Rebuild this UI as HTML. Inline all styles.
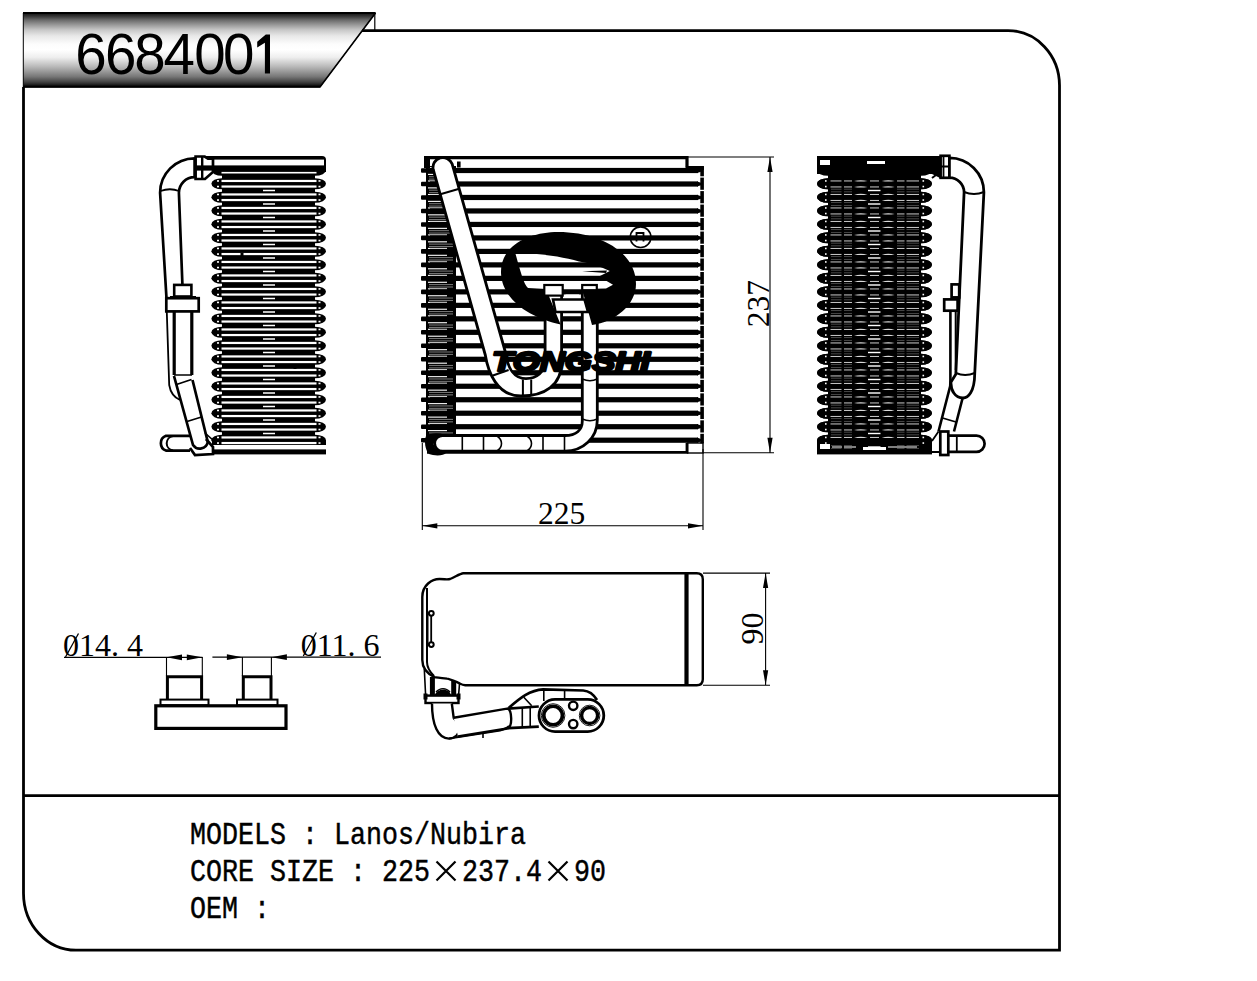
<!DOCTYPE html><html><head><meta charset="utf-8"><style>html,body{margin:0;padding:0;background:#fff;}svg{display:block;}</style></head><body>
<svg width="1257" height="981" viewBox="0 0 1257 981">
<defs><linearGradient id="bn" x1="0" y1="0" x2="0" y2="1"><stop offset="0" stop-color="#111"/><stop offset="0.04" stop-color="#333"/><stop offset="0.095" stop-color="#6a6a6a"/><stop offset="0.16" stop-color="#999"/><stop offset="0.23" stop-color="#c8c8c8"/><stop offset="0.31" stop-color="#e8e8e8"/><stop offset="0.42" stop-color="#fcfcfc"/><stop offset="0.5" stop-color="#fff"/><stop offset="0.6" stop-color="#eee"/><stop offset="0.66" stop-color="#d4d4d4"/><stop offset="0.72" stop-color="#bbb"/><stop offset="0.79" stop-color="#999"/><stop offset="0.86" stop-color="#777"/><stop offset="0.93" stop-color="#444"/><stop offset="0.98" stop-color="#151515"/><stop offset="1" stop-color="#000"/></linearGradient></defs>
<rect x="0" y="0" width="1257" height="981" fill="#fff"/>
<polygon points="23.3,13 375.5,13 320,87 23.3,87" fill="url(#bn)" stroke="#000" stroke-width="1"/>
<line x1="23" y1="13" x2="375.5" y2="13" stroke="#000" stroke-width="2"/>
<line x1="23" y1="86.7" x2="320.5" y2="86.7" stroke="#000" stroke-width="2"/>
<line x1="375.5" y1="13" x2="320" y2="87" stroke="#000" stroke-width="1.6"/>
<line x1="374.8" y1="13" x2="374.8" y2="30" stroke="#000" stroke-width="1.2"/>
<text y="74.1" font-family="Liberation Sans" font-size="56.5" fill="#000"><tspan x="75.3">6</tspan><tspan x="104.9">6</tspan><tspan x="134.3">8</tspan><tspan x="163.6">4</tspan><tspan x="194.3">0</tspan><tspan x="223">0</tspan></text>
<path d="M270,34.4 V73.4 H264.9 V42.8 L257.2,47.4 V41.8 L265.8,34.4 Z" fill="#000"/>
<path d="M362,30.6 H1008 A51.5,55 0 0 1 1059.5,85.6 V950.2 H76 A52.5,57 0 0 1 23.5,893.2 V87" fill="none" stroke="#000" stroke-width="2.8"/>
<line x1="23.5" y1="795.6" x2="1059.5" y2="795.6" stroke="#000" stroke-width="2.8"/>
<text x="190" y="844.3" font-family="Liberation Mono" font-size="31.3" transform="translate(190,844.3) scale(0.852,1) translate(-190,-844.3)" fill="#000" stroke="#000" stroke-width="0.45" xml:space="preserve">MODELS : Lanos/Nubira</text>
<text x="190" y="881.2" font-family="Liberation Mono" font-size="31.3" transform="translate(190,881.2) scale(0.852,1) translate(-190,-881.2)" fill="#000" stroke="#000" stroke-width="0.45" xml:space="preserve">CORE SIZE : 225</text>
<path d="M436.5,861.5 L455.5,880.5 M455.5,861.5 L436.5,880.5" stroke="#000" stroke-width="2.2" fill="none"/>
<text x="462" y="881.2" font-family="Liberation Mono" font-size="31.3" transform="translate(462,881.2) scale(0.852,1) translate(-462,-881.2)" fill="#000" stroke="#000" stroke-width="0.45" xml:space="preserve">237.4</text>
<path d="M548.5,861.5 L567.5,880.5 M567.5,861.5 L548.5,880.5" stroke="#000" stroke-width="2.2" fill="none"/>
<text x="574" y="881.2" font-family="Liberation Mono" font-size="31.3" transform="translate(574,881.2) scale(0.852,1) translate(-574,-881.2)" fill="#000" stroke="#000" stroke-width="0.45" xml:space="preserve">90</text>
<text x="190" y="918.2" font-family="Liberation Mono" font-size="31.3" transform="translate(190,918.2) scale(0.852,1) translate(-190,-918.2)" fill="#000" stroke="#000" stroke-width="0.45" xml:space="preserve">OEM :</text>
<rect x="426" y="166" width="30" height="280" fill="#000"/>
<rect x="428" y="166.96" width="19" height="1.1" fill="#fff" fill-opacity="1"/>
<rect x="428" y="173.85" width="19" height="1.1" fill="#fff" fill-opacity="1"/>
<rect x="429" y="176.15" width="24" height="1.1" fill="#fff" fill-opacity="0.45"/>
<rect x="429" y="178.55" width="24" height="1.1" fill="#fff" fill-opacity="0.45"/>
<rect x="428" y="180.45" width="19" height="1.1" fill="#fff" fill-opacity="1"/>
<rect x="428" y="187.34" width="19" height="1.1" fill="#fff" fill-opacity="1"/>
<rect x="429" y="189.63" width="24" height="1.1" fill="#fff" fill-opacity="0.45"/>
<rect x="429" y="192.03" width="24" height="1.1" fill="#fff" fill-opacity="0.45"/>
<rect x="428" y="193.94" width="19" height="1.1" fill="#fff" fill-opacity="1"/>
<rect x="428" y="200.82" width="19" height="1.1" fill="#fff" fill-opacity="1"/>
<rect x="429" y="203.12" width="24" height="1.1" fill="#fff" fill-opacity="0.45"/>
<rect x="429" y="205.52" width="24" height="1.1" fill="#fff" fill-opacity="0.45"/>
<rect x="428" y="207.42" width="19" height="1.1" fill="#fff" fill-opacity="1"/>
<rect x="428" y="214.30" width="19" height="1.1" fill="#fff" fill-opacity="1"/>
<rect x="429" y="216.60" width="24" height="1.1" fill="#fff" fill-opacity="0.45"/>
<rect x="429" y="219.00" width="24" height="1.1" fill="#fff" fill-opacity="0.45"/>
<rect x="428" y="220.90" width="19" height="1.1" fill="#fff" fill-opacity="1"/>
<rect x="428" y="227.79" width="19" height="1.1" fill="#fff" fill-opacity="1"/>
<rect x="429" y="230.09" width="24" height="1.1" fill="#fff" fill-opacity="0.45"/>
<rect x="429" y="232.49" width="24" height="1.1" fill="#fff" fill-opacity="0.45"/>
<rect x="428" y="234.39" width="19" height="1.1" fill="#fff" fill-opacity="1"/>
<rect x="428" y="241.28" width="19" height="1.1" fill="#fff" fill-opacity="1"/>
<rect x="429" y="243.57" width="24" height="1.1" fill="#fff" fill-opacity="0.45"/>
<rect x="429" y="245.97" width="24" height="1.1" fill="#fff" fill-opacity="0.45"/>
<rect x="428" y="247.88" width="19" height="1.1" fill="#fff" fill-opacity="1"/>
<rect x="428" y="254.76" width="19" height="1.1" fill="#fff" fill-opacity="1"/>
<rect x="429" y="257.06" width="24" height="1.1" fill="#fff" fill-opacity="0.45"/>
<rect x="429" y="259.46" width="24" height="1.1" fill="#fff" fill-opacity="0.45"/>
<rect x="428" y="261.36" width="19" height="1.1" fill="#fff" fill-opacity="1"/>
<rect x="428" y="268.24" width="19" height="1.1" fill="#fff" fill-opacity="1"/>
<rect x="429" y="270.54" width="24" height="1.1" fill="#fff" fill-opacity="0.45"/>
<rect x="429" y="272.94" width="24" height="1.1" fill="#fff" fill-opacity="0.45"/>
<rect x="428" y="274.84" width="19" height="1.1" fill="#fff" fill-opacity="1"/>
<rect x="428" y="281.73" width="19" height="1.1" fill="#fff" fill-opacity="1"/>
<rect x="429" y="284.03" width="24" height="1.1" fill="#fff" fill-opacity="0.45"/>
<rect x="429" y="286.43" width="24" height="1.1" fill="#fff" fill-opacity="0.45"/>
<rect x="428" y="288.33" width="19" height="1.1" fill="#fff" fill-opacity="1"/>
<rect x="428" y="295.21" width="19" height="1.1" fill="#fff" fill-opacity="1"/>
<rect x="429" y="297.51" width="24" height="1.1" fill="#fff" fill-opacity="0.45"/>
<rect x="429" y="299.92" width="24" height="1.1" fill="#fff" fill-opacity="0.45"/>
<rect x="428" y="301.81" width="19" height="1.1" fill="#fff" fill-opacity="1"/>
<rect x="428" y="308.70" width="19" height="1.1" fill="#fff" fill-opacity="1"/>
<rect x="429" y="311.00" width="24" height="1.1" fill="#fff" fill-opacity="0.45"/>
<rect x="429" y="313.40" width="24" height="1.1" fill="#fff" fill-opacity="0.45"/>
<rect x="428" y="315.30" width="19" height="1.1" fill="#fff" fill-opacity="1"/>
<rect x="428" y="322.18" width="19" height="1.1" fill="#fff" fill-opacity="1"/>
<rect x="429" y="324.48" width="24" height="1.1" fill="#fff" fill-opacity="0.45"/>
<rect x="429" y="326.88" width="24" height="1.1" fill="#fff" fill-opacity="0.45"/>
<rect x="428" y="328.78" width="19" height="1.1" fill="#fff" fill-opacity="1"/>
<rect x="428" y="335.67" width="19" height="1.1" fill="#fff" fill-opacity="1"/>
<rect x="429" y="337.97" width="24" height="1.1" fill="#fff" fill-opacity="0.45"/>
<rect x="429" y="340.37" width="24" height="1.1" fill="#fff" fill-opacity="0.45"/>
<rect x="428" y="342.27" width="19" height="1.1" fill="#fff" fill-opacity="1"/>
<rect x="428" y="349.15" width="19" height="1.1" fill="#fff" fill-opacity="1"/>
<rect x="429" y="351.45" width="24" height="1.1" fill="#fff" fill-opacity="0.45"/>
<rect x="429" y="353.86" width="24" height="1.1" fill="#fff" fill-opacity="0.45"/>
<rect x="428" y="355.75" width="19" height="1.1" fill="#fff" fill-opacity="1"/>
<rect x="428" y="362.64" width="19" height="1.1" fill="#fff" fill-opacity="1"/>
<rect x="429" y="364.94" width="24" height="1.1" fill="#fff" fill-opacity="0.45"/>
<rect x="429" y="367.34" width="24" height="1.1" fill="#fff" fill-opacity="0.45"/>
<rect x="428" y="369.24" width="19" height="1.1" fill="#fff" fill-opacity="1"/>
<rect x="428" y="376.12" width="19" height="1.1" fill="#fff" fill-opacity="1"/>
<rect x="429" y="378.42" width="24" height="1.1" fill="#fff" fill-opacity="0.45"/>
<rect x="429" y="380.82" width="24" height="1.1" fill="#fff" fill-opacity="0.45"/>
<rect x="428" y="382.72" width="19" height="1.1" fill="#fff" fill-opacity="1"/>
<rect x="428" y="389.61" width="19" height="1.1" fill="#fff" fill-opacity="1"/>
<rect x="429" y="391.91" width="24" height="1.1" fill="#fff" fill-opacity="0.45"/>
<rect x="429" y="394.31" width="24" height="1.1" fill="#fff" fill-opacity="0.45"/>
<rect x="428" y="396.21" width="19" height="1.1" fill="#fff" fill-opacity="1"/>
<rect x="428" y="403.09" width="19" height="1.1" fill="#fff" fill-opacity="1"/>
<rect x="429" y="405.39" width="24" height="1.1" fill="#fff" fill-opacity="0.45"/>
<rect x="429" y="407.80" width="24" height="1.1" fill="#fff" fill-opacity="0.45"/>
<rect x="428" y="409.69" width="19" height="1.1" fill="#fff" fill-opacity="1"/>
<rect x="428" y="416.58" width="19" height="1.1" fill="#fff" fill-opacity="1"/>
<rect x="429" y="418.88" width="24" height="1.1" fill="#fff" fill-opacity="0.45"/>
<rect x="429" y="421.28" width="24" height="1.1" fill="#fff" fill-opacity="0.45"/>
<rect x="428" y="423.18" width="19" height="1.1" fill="#fff" fill-opacity="1"/>
<rect x="428" y="430.06" width="19" height="1.1" fill="#fff" fill-opacity="1"/>
<rect x="429" y="432.36" width="24" height="1.1" fill="#fff" fill-opacity="0.45"/>
<rect x="429" y="434.76" width="24" height="1.1" fill="#fff" fill-opacity="0.45"/>
<rect x="428" y="436.66" width="19" height="1.1" fill="#fff" fill-opacity="1"/>
<rect x="428" y="443.55" width="19" height="1.1" fill="#fff" fill-opacity="1"/>
<rect x="430" y="167.90" width="268" height="5.2" fill="#000"/>
<rect x="421" y="168.20" width="8" height="4.6" rx="1" fill="#000"/>
<path d="M697,167.90 L701,169.30 L701,171.70 L697,173.10 Z" fill="#000"/>
<rect x="430" y="181.39" width="268" height="5.2" fill="#000"/>
<rect x="421" y="181.69" width="8" height="4.6" rx="1" fill="#000"/>
<path d="M697,181.39 L701,182.79 L701,185.19 L697,186.59 Z" fill="#000"/>
<rect x="430" y="194.87" width="268" height="5.2" fill="#000"/>
<rect x="421" y="195.17" width="8" height="4.6" rx="1" fill="#000"/>
<path d="M697,194.87 L701,196.27 L701,198.67 L697,200.07 Z" fill="#000"/>
<rect x="430" y="208.35" width="268" height="5.2" fill="#000"/>
<rect x="421" y="208.65" width="8" height="4.6" rx="1" fill="#000"/>
<path d="M697,208.35 L701,209.75 L701,212.15 L697,213.55 Z" fill="#000"/>
<rect x="430" y="221.84" width="268" height="5.2" fill="#000"/>
<rect x="421" y="222.14" width="8" height="4.6" rx="1" fill="#000"/>
<path d="M697,221.84 L701,223.24 L701,225.64 L697,227.04 Z" fill="#000"/>
<rect x="430" y="235.33" width="268" height="5.2" fill="#000"/>
<rect x="421" y="235.62" width="8" height="4.6" rx="1" fill="#000"/>
<path d="M697,235.33 L701,236.73 L701,239.12 L697,240.53 Z" fill="#000"/>
<rect x="430" y="248.81" width="268" height="5.2" fill="#000"/>
<rect x="421" y="249.11" width="8" height="4.6" rx="1" fill="#000"/>
<path d="M697,248.81 L701,250.21 L701,252.61 L697,254.01 Z" fill="#000"/>
<rect x="430" y="262.29" width="268" height="5.2" fill="#000"/>
<rect x="421" y="262.59" width="8" height="4.6" rx="1" fill="#000"/>
<path d="M697,262.29 L701,263.69 L701,266.09 L697,267.50 Z" fill="#000"/>
<rect x="430" y="275.78" width="268" height="5.2" fill="#000"/>
<rect x="421" y="276.08" width="8" height="4.6" rx="1" fill="#000"/>
<path d="M697,275.78 L701,277.18 L701,279.58 L697,280.98 Z" fill="#000"/>
<rect x="430" y="289.26" width="268" height="5.2" fill="#000"/>
<rect x="421" y="289.56" width="8" height="4.6" rx="1" fill="#000"/>
<path d="M697,289.26 L701,290.67 L701,293.06 L697,294.47 Z" fill="#000"/>
<rect x="430" y="302.75" width="268" height="5.2" fill="#000"/>
<rect x="421" y="303.05" width="8" height="4.6" rx="1" fill="#000"/>
<path d="M697,302.75 L701,304.15 L701,306.55 L697,307.95 Z" fill="#000"/>
<rect x="430" y="316.23" width="268" height="5.2" fill="#000"/>
<rect x="421" y="316.53" width="8" height="4.6" rx="1" fill="#000"/>
<path d="M697,316.23 L701,317.63 L701,320.03 L697,321.44 Z" fill="#000"/>
<rect x="430" y="329.72" width="268" height="5.2" fill="#000"/>
<rect x="421" y="330.02" width="8" height="4.6" rx="1" fill="#000"/>
<path d="M697,329.72 L701,331.12 L701,333.52 L697,334.92 Z" fill="#000"/>
<rect x="430" y="343.20" width="268" height="5.2" fill="#000"/>
<rect x="421" y="343.50" width="8" height="4.6" rx="1" fill="#000"/>
<path d="M697,343.20 L701,344.61 L701,347.00 L697,348.41 Z" fill="#000"/>
<rect x="430" y="356.69" width="268" height="5.2" fill="#000"/>
<rect x="421" y="356.99" width="8" height="4.6" rx="1" fill="#000"/>
<path d="M697,356.69 L701,358.09 L701,360.49 L697,361.89 Z" fill="#000"/>
<rect x="430" y="370.17" width="268" height="5.2" fill="#000"/>
<rect x="421" y="370.47" width="8" height="4.6" rx="1" fill="#000"/>
<path d="M697,370.17 L701,371.57 L701,373.97 L697,375.38 Z" fill="#000"/>
<rect x="430" y="383.66" width="268" height="5.2" fill="#000"/>
<rect x="421" y="383.96" width="8" height="4.6" rx="1" fill="#000"/>
<path d="M697,383.66 L701,385.06 L701,387.46 L697,388.86 Z" fill="#000"/>
<rect x="430" y="397.14" width="268" height="5.2" fill="#000"/>
<rect x="421" y="397.44" width="8" height="4.6" rx="1" fill="#000"/>
<path d="M697,397.14 L701,398.55 L701,400.94 L697,402.35 Z" fill="#000"/>
<rect x="430" y="410.63" width="268" height="5.2" fill="#000"/>
<rect x="421" y="410.93" width="8" height="4.6" rx="1" fill="#000"/>
<path d="M697,410.63 L701,412.03 L701,414.43 L697,415.83 Z" fill="#000"/>
<rect x="430" y="424.11" width="268" height="5.2" fill="#000"/>
<rect x="421" y="424.41" width="8" height="4.6" rx="1" fill="#000"/>
<path d="M697,424.11 L701,425.51 L701,427.91 L697,429.31 Z" fill="#000"/>
<rect x="430" y="437.60" width="268" height="5.2" fill="#000"/>
<rect x="421" y="437.90" width="8" height="4.6" rx="1" fill="#000"/>
<path d="M697,437.60 L701,439.00 L701,441.40 L697,442.80 Z" fill="#000"/>
<rect x="700.3" y="166.4" width="3.6" height="277" fill="#000"/>
<rect x="699.6" y="176.30" width="5" height="1.3" fill="#fff"/>
<rect x="699.6" y="189.79" width="5" height="1.3" fill="#fff"/>
<rect x="699.6" y="203.27" width="5" height="1.3" fill="#fff"/>
<rect x="699.6" y="216.75" width="5" height="1.3" fill="#fff"/>
<rect x="699.6" y="230.24" width="5" height="1.3" fill="#fff"/>
<rect x="699.6" y="243.73" width="5" height="1.3" fill="#fff"/>
<rect x="699.6" y="257.21" width="5" height="1.3" fill="#fff"/>
<rect x="699.6" y="270.69" width="5" height="1.3" fill="#fff"/>
<rect x="699.6" y="284.18" width="5" height="1.3" fill="#fff"/>
<rect x="699.6" y="297.67" width="5" height="1.3" fill="#fff"/>
<rect x="699.6" y="311.15" width="5" height="1.3" fill="#fff"/>
<rect x="699.6" y="324.63" width="5" height="1.3" fill="#fff"/>
<rect x="699.6" y="338.12" width="5" height="1.3" fill="#fff"/>
<rect x="699.6" y="351.61" width="5" height="1.3" fill="#fff"/>
<rect x="699.6" y="365.09" width="5" height="1.3" fill="#fff"/>
<rect x="699.6" y="378.57" width="5" height="1.3" fill="#fff"/>
<rect x="699.6" y="392.06" width="5" height="1.3" fill="#fff"/>
<rect x="699.6" y="405.55" width="5" height="1.3" fill="#fff"/>
<rect x="699.6" y="419.03" width="5" height="1.3" fill="#fff"/>
<rect x="699.6" y="432.51" width="5" height="1.3" fill="#fff"/>
<rect x="699.6" y="446.00" width="5" height="1.3" fill="#fff"/>
<path d="M425,157.7 H687 V166.5" fill="none" stroke="#000" stroke-width="3.2"/>
<rect x="685.5" y="166" width="18.4" height="4" fill="#000"/>
<rect x="424" y="156" width="6" height="12" fill="#000"/>
<rect x="457" y="161.5" width="3.6" height="6" fill="#000"/>
<path d="M427,452.4 H687 V443" fill="none" stroke="#000" stroke-width="2.8"/>
<rect x="687.5" y="443" width="15.5" height="10" fill="none" stroke="#000" stroke-width="1.4"/>
<path d="M433.2,169.5 L485.3,355 C488,372 497,396 521,396 C545,396 561.6,385 561.6,362 L561.6,292 L545.1,292 L545.1,362 C544.5,372 537,378.6 526,378.6 C514,378.6 508,368 506.2,355 L452.2,164.1 A9.9,9.9 0 0 0 433.2,169.5 Z" fill="#fff" stroke="#000" stroke-width="2.8" stroke-linejoin="round"/>
<path d="M440.3,194.2 L459.3,188.8" stroke="#000" stroke-width="2"/>
<path d="M491.5,376 L508.6,370" stroke="#000" stroke-width="2"/>
<path d="M522.9,379.5 V396 M531.2,379.5 V396" stroke="#000" stroke-width="2"/>
<path d="M582.3,292 L582.3,421 C582.3,430 576,435.5 565,435.5 L442.5,435.5 A7.85,7.85 0 0 0 442.5,451.2 L565,451.2 C583,451.2 597.3,438 597.3,420 L597.3,292 Z" fill="#fff" stroke="#000" stroke-width="2.8" stroke-linejoin="round"/>
<path d="M462.3,436 V451 M483.5,436 V451 M543,436 V451 M564.5,436 V451" stroke="#000" stroke-width="1.6"/>
<path d="M497,436 C503,440 503,447 497,451 M527,436 C533,440 533,447 527,451" stroke="#000" stroke-width="1.6" fill="none"/>
<path d="M582.3,379 C588,381.5 592,381.5 597.3,379 M582.3,419 C588,421.5 592,421.5 597.3,419" stroke="#000" stroke-width="1.6" fill="none"/>
<path d="M426,436 C430,433 438,432.5 444,434.5 L444,436.5 C436,437 433,441 433.5,444 C434,448 437,450.5 444,451.5 L446,453 C444,456 434,456 429,454 C425,450 424,441 426,436 Z" fill="#000"/>
<path d="M560.6,324.4 C530,318 502,300 501,273 C500,245 530,232 558,232 C600,232 636,252 636,284 C636,305 615,322 592,325 L582,289 L606,288.6 L613,284.7 L599,276.5 L609.8,271 C600,266 590,263 579,261.4 C560,256 535,253 515.5,253.7 C520,270 524,285 528,288 L546,289 Z" fill="#000"/>
<path d="M582,271.2 L607,270.6 L606,272.9 Z" fill="#000"/>
<path d="M553,299.5 H584.5 L588,312 H555.5 Z" fill="#fff" stroke="#000" stroke-width="2.6"/>
<rect x="565.5" y="294.5" width="13.5" height="3.5" fill="#fff"/>
<rect x="544.3" y="285" width="18.4" height="10.6" fill="#fff" stroke="#000" stroke-width="2.2"/>
<rect x="582.2" y="285" width="14.6" height="5.2" fill="#fff" stroke="#000" stroke-width="2.2"/>
<circle cx="640.6" cy="237.2" r="10.3" fill="none" stroke="#000" stroke-width="1.6"/>
<path d="M636.5,241.5 V233 H643.5 V238.5 H636.5 M643.5,238.5 V241.5" fill="none" stroke="#000" stroke-width="1.8"/>
<text x="492" y="370.8" font-family="Liberation Sans" font-weight="bold" font-style="italic" font-size="27.5" textLength="158" lengthAdjust="spacingAndGlyphs" fill="#000" stroke="#000" stroke-width="2.4" stroke-linejoin="round">TONGSHI</text>
<path d="M688,157 H774 M703,452.8 H774 M770,157 V452.8" stroke="#000" stroke-width="1.1" fill="none"/>
<path d="M770,157 L772.60,172.00 L767.40,172.00 Z" fill="#000"/>
<path d="M770,452.8 L767.40,437.80 L772.60,437.80 Z" fill="#000"/>
<path d="M422.3,443 V530 M703,449 V530 M422.3,525.8 H703" stroke="#000" stroke-width="1.1" fill="none"/>
<path d="M422.3,525.8 L437.30,523.20 L437.30,528.40 Z" fill="#000"/>
<path d="M703,525.8 L688.00,528.40 L688.00,523.20 Z" fill="#000"/>
<text x="538" y="523.6" font-family="Liberation Serif" font-size="31.5" fill="#000">225</text>
<text transform="translate(768.8,303.5) rotate(-90)" x="0" y="0" text-anchor="middle" font-family="Liberation Serif" font-size="31.5" fill="#000">237</text>
<text x="62.9" y="655.6" font-family="Liberation Serif" font-size="32" fill="#000" xml:space="preserve">014. 4</text>
<path d="M65.5,657 L78.5,633.5" stroke="#000" stroke-width="1.3"/>
<text x="300.7" y="655.6" font-family="Liberation Serif" font-size="32" fill="#000" xml:space="preserve">011. 6</text>
<path d="M303.3,656 L316.3,632.5" stroke="#000" stroke-width="1.3"/>
<path d="M64,657.3 H202.5 M212.4,657.2 H381" stroke="#000" stroke-width="1.2"/>
<path d="M166.5,657.3 L182.00,654.40 L182.00,660.20 Z" fill="#000"/>
<path d="M202.3,657.3 L186.80,660.20 L186.80,654.40 Z" fill="#000"/>
<path d="M242.4,657.2 L226.90,660.10 L226.90,654.30 Z" fill="#000"/>
<path d="M271.4,657.2 L286.90,654.30 L286.90,660.10 Z" fill="#000"/>
<path d="M166.5,657 V676 M202.3,657 V676 M242.4,657 V676 M271.4,657 V676" stroke="#000" stroke-width="1.1"/>
<rect x="155.8" y="705.8" width="130.2" height="22.6" fill="none" stroke="#000" stroke-width="3.2"/>
<rect x="160.5" y="699.6" width="48" height="5.6" fill="none" stroke="#000" stroke-width="2"/>
<rect x="237" y="699.6" width="40.5" height="5.6" fill="none" stroke="#000" stroke-width="2"/>
<path d="M167.4,699 V676.8 H201.6 V699" fill="none" stroke="#000" stroke-width="3"/>
<path d="M243.3,699 V676.8 H271 V699" fill="none" stroke="#000" stroke-width="3"/>
<path d="M703,573.1 H770 M703,685.3 H770 M765.6,573.1 V685.3" stroke="#000" stroke-width="1.1" fill="none"/>
<path d="M765.6,573.1 L768.20,588.10 L763.00,588.10 Z" fill="#000"/>
<path d="M765.6,685.3 L763.00,670.30 L768.20,670.30 Z" fill="#000"/>
<text transform="translate(763.2,628.4) rotate(-90)" x="0" y="0" text-anchor="middle" font-family="Liberation Serif" font-size="32" fill="#000">90</text>
<rect x="222" y="156" width="93" height="298" fill="#000"/>
<path d="M204,156 H322 Q326,156 326,160 V172 H204 Z" fill="#000"/>
<rect x="212" y="440" width="114" height="14.4" fill="#000"/>
<ellipse cx="222" cy="170.25" rx="10.6" ry="5.6" fill="#000"/>
<ellipse cx="315" cy="170.25" rx="11" ry="5.6" fill="#000"/>
<ellipse cx="222" cy="183.75" rx="10.6" ry="5.6" fill="#000"/>
<ellipse cx="315" cy="183.75" rx="11" ry="5.6" fill="#000"/>
<ellipse cx="222" cy="197.25" rx="10.6" ry="5.6" fill="#000"/>
<ellipse cx="315" cy="197.25" rx="11" ry="5.6" fill="#000"/>
<ellipse cx="222" cy="210.75" rx="10.6" ry="5.6" fill="#000"/>
<ellipse cx="315" cy="210.75" rx="11" ry="5.6" fill="#000"/>
<ellipse cx="222" cy="224.25" rx="10.6" ry="5.6" fill="#000"/>
<ellipse cx="315" cy="224.25" rx="11" ry="5.6" fill="#000"/>
<ellipse cx="222" cy="237.75" rx="10.6" ry="5.6" fill="#000"/>
<ellipse cx="315" cy="237.75" rx="11" ry="5.6" fill="#000"/>
<ellipse cx="222" cy="251.25" rx="10.6" ry="5.6" fill="#000"/>
<ellipse cx="315" cy="251.25" rx="11" ry="5.6" fill="#000"/>
<ellipse cx="222" cy="264.75" rx="10.6" ry="5.6" fill="#000"/>
<ellipse cx="315" cy="264.75" rx="11" ry="5.6" fill="#000"/>
<ellipse cx="222" cy="278.25" rx="10.6" ry="5.6" fill="#000"/>
<ellipse cx="315" cy="278.25" rx="11" ry="5.6" fill="#000"/>
<ellipse cx="222" cy="291.75" rx="10.6" ry="5.6" fill="#000"/>
<ellipse cx="315" cy="291.75" rx="11" ry="5.6" fill="#000"/>
<ellipse cx="222" cy="305.25" rx="10.6" ry="5.6" fill="#000"/>
<ellipse cx="315" cy="305.25" rx="11" ry="5.6" fill="#000"/>
<ellipse cx="222" cy="318.75" rx="10.6" ry="5.6" fill="#000"/>
<ellipse cx="315" cy="318.75" rx="11" ry="5.6" fill="#000"/>
<ellipse cx="222" cy="332.25" rx="10.6" ry="5.6" fill="#000"/>
<ellipse cx="315" cy="332.25" rx="11" ry="5.6" fill="#000"/>
<ellipse cx="222" cy="345.75" rx="10.6" ry="5.6" fill="#000"/>
<ellipse cx="315" cy="345.75" rx="11" ry="5.6" fill="#000"/>
<ellipse cx="222" cy="359.25" rx="10.6" ry="5.6" fill="#000"/>
<ellipse cx="315" cy="359.25" rx="11" ry="5.6" fill="#000"/>
<ellipse cx="222" cy="372.75" rx="10.6" ry="5.6" fill="#000"/>
<ellipse cx="315" cy="372.75" rx="11" ry="5.6" fill="#000"/>
<ellipse cx="222" cy="386.25" rx="10.6" ry="5.6" fill="#000"/>
<ellipse cx="315" cy="386.25" rx="11" ry="5.6" fill="#000"/>
<ellipse cx="222" cy="399.75" rx="10.6" ry="5.6" fill="#000"/>
<ellipse cx="315" cy="399.75" rx="11" ry="5.6" fill="#000"/>
<ellipse cx="222" cy="413.25" rx="10.6" ry="5.6" fill="#000"/>
<ellipse cx="315" cy="413.25" rx="11" ry="5.6" fill="#000"/>
<ellipse cx="222" cy="426.75" rx="10.6" ry="5.6" fill="#000"/>
<ellipse cx="315" cy="426.75" rx="11" ry="5.6" fill="#000"/>
<ellipse cx="222" cy="440.25" rx="10.6" ry="5.6" fill="#000"/>
<ellipse cx="315" cy="440.25" rx="11" ry="5.6" fill="#000"/>
<rect x="221.5" y="179.85" width="95" height="2.2" fill="#fff"/>
<rect x="217" y="180.15" width="2" height="1.6" fill="#fff"/><rect x="318.5" y="180.15" width="2" height="1.6" fill="#fff"/>
<rect x="221.5" y="185.45" width="95" height="2.2" fill="#fff"/>
<rect x="217" y="185.75" width="2" height="1.6" fill="#fff"/><rect x="318.5" y="185.75" width="2" height="1.6" fill="#fff"/>
<rect x="263" y="189.75" width="12" height="1.5" fill="#fff"/>
<rect x="221.5" y="193.35" width="95" height="2.2" fill="#fff"/>
<rect x="217" y="193.65" width="2" height="1.6" fill="#fff"/><rect x="318.5" y="193.65" width="2" height="1.6" fill="#fff"/>
<rect x="221.5" y="198.95" width="95" height="2.2" fill="#fff"/>
<rect x="217" y="199.25" width="2" height="1.6" fill="#fff"/><rect x="318.5" y="199.25" width="2" height="1.6" fill="#fff"/>
<rect x="263" y="203.25" width="12" height="1.5" fill="#fff"/>
<rect x="221.5" y="206.85" width="95" height="2.2" fill="#fff"/>
<rect x="217" y="207.15" width="2" height="1.6" fill="#fff"/><rect x="318.5" y="207.15" width="2" height="1.6" fill="#fff"/>
<rect x="221.5" y="212.45" width="95" height="2.2" fill="#fff"/>
<rect x="217" y="212.75" width="2" height="1.6" fill="#fff"/><rect x="318.5" y="212.75" width="2" height="1.6" fill="#fff"/>
<rect x="263" y="216.75" width="12" height="1.5" fill="#fff"/>
<rect x="221.5" y="220.35" width="95" height="2.2" fill="#fff"/>
<rect x="217" y="220.65" width="2" height="1.6" fill="#fff"/><rect x="318.5" y="220.65" width="2" height="1.6" fill="#fff"/>
<rect x="221.5" y="225.95" width="95" height="2.2" fill="#fff"/>
<rect x="217" y="226.25" width="2" height="1.6" fill="#fff"/><rect x="318.5" y="226.25" width="2" height="1.6" fill="#fff"/>
<rect x="263" y="230.25" width="12" height="1.5" fill="#fff"/>
<rect x="221.5" y="233.85" width="95" height="2.2" fill="#fff"/>
<rect x="217" y="234.15" width="2" height="1.6" fill="#fff"/><rect x="318.5" y="234.15" width="2" height="1.6" fill="#fff"/>
<rect x="221.5" y="239.45" width="95" height="2.2" fill="#fff"/>
<rect x="217" y="239.75" width="2" height="1.6" fill="#fff"/><rect x="318.5" y="239.75" width="2" height="1.6" fill="#fff"/>
<rect x="263" y="243.75" width="12" height="1.5" fill="#fff"/>
<rect x="221.5" y="247.35" width="95" height="2.2" fill="#fff"/>
<rect x="217" y="247.65" width="2" height="1.6" fill="#fff"/><rect x="318.5" y="247.65" width="2" height="1.6" fill="#fff"/>
<rect x="221.5" y="252.95" width="95" height="2.2" fill="#fff"/>
<rect x="217" y="253.25" width="2" height="1.6" fill="#fff"/><rect x="318.5" y="253.25" width="2" height="1.6" fill="#fff"/>
<rect x="263" y="257.25" width="12" height="1.5" fill="#fff"/>
<rect x="221.5" y="260.85" width="95" height="2.2" fill="#fff"/>
<rect x="217" y="261.15" width="2" height="1.6" fill="#fff"/><rect x="318.5" y="261.15" width="2" height="1.6" fill="#fff"/>
<rect x="221.5" y="266.45" width="95" height="2.2" fill="#fff"/>
<rect x="217" y="266.75" width="2" height="1.6" fill="#fff"/><rect x="318.5" y="266.75" width="2" height="1.6" fill="#fff"/>
<rect x="263" y="270.75" width="12" height="1.5" fill="#fff"/>
<rect x="221.5" y="274.35" width="95" height="2.2" fill="#fff"/>
<rect x="217" y="274.65" width="2" height="1.6" fill="#fff"/><rect x="318.5" y="274.65" width="2" height="1.6" fill="#fff"/>
<rect x="221.5" y="279.95" width="95" height="2.2" fill="#fff"/>
<rect x="217" y="280.25" width="2" height="1.6" fill="#fff"/><rect x="318.5" y="280.25" width="2" height="1.6" fill="#fff"/>
<rect x="263" y="284.25" width="12" height="1.5" fill="#fff"/>
<rect x="221.5" y="287.85" width="95" height="2.2" fill="#fff"/>
<rect x="217" y="288.15" width="2" height="1.6" fill="#fff"/><rect x="318.5" y="288.15" width="2" height="1.6" fill="#fff"/>
<rect x="221.5" y="293.45" width="95" height="2.2" fill="#fff"/>
<rect x="217" y="293.75" width="2" height="1.6" fill="#fff"/><rect x="318.5" y="293.75" width="2" height="1.6" fill="#fff"/>
<rect x="263" y="297.75" width="12" height="1.5" fill="#fff"/>
<rect x="221.5" y="301.35" width="95" height="2.2" fill="#fff"/>
<rect x="217" y="301.65" width="2" height="1.6" fill="#fff"/><rect x="318.5" y="301.65" width="2" height="1.6" fill="#fff"/>
<rect x="221.5" y="306.95" width="95" height="2.2" fill="#fff"/>
<rect x="217" y="307.25" width="2" height="1.6" fill="#fff"/><rect x="318.5" y="307.25" width="2" height="1.6" fill="#fff"/>
<rect x="263" y="311.25" width="12" height="1.5" fill="#fff"/>
<rect x="221.5" y="314.85" width="95" height="2.2" fill="#fff"/>
<rect x="217" y="315.15" width="2" height="1.6" fill="#fff"/><rect x="318.5" y="315.15" width="2" height="1.6" fill="#fff"/>
<rect x="221.5" y="320.45" width="95" height="2.2" fill="#fff"/>
<rect x="217" y="320.75" width="2" height="1.6" fill="#fff"/><rect x="318.5" y="320.75" width="2" height="1.6" fill="#fff"/>
<rect x="263" y="324.75" width="12" height="1.5" fill="#fff"/>
<rect x="221.5" y="328.35" width="95" height="2.2" fill="#fff"/>
<rect x="217" y="328.65" width="2" height="1.6" fill="#fff"/><rect x="318.5" y="328.65" width="2" height="1.6" fill="#fff"/>
<rect x="221.5" y="333.95" width="95" height="2.2" fill="#fff"/>
<rect x="217" y="334.25" width="2" height="1.6" fill="#fff"/><rect x="318.5" y="334.25" width="2" height="1.6" fill="#fff"/>
<rect x="263" y="338.25" width="12" height="1.5" fill="#fff"/>
<rect x="221.5" y="341.85" width="95" height="2.2" fill="#fff"/>
<rect x="217" y="342.15" width="2" height="1.6" fill="#fff"/><rect x="318.5" y="342.15" width="2" height="1.6" fill="#fff"/>
<rect x="221.5" y="347.45" width="95" height="2.2" fill="#fff"/>
<rect x="217" y="347.75" width="2" height="1.6" fill="#fff"/><rect x="318.5" y="347.75" width="2" height="1.6" fill="#fff"/>
<rect x="263" y="351.75" width="12" height="1.5" fill="#fff"/>
<rect x="221.5" y="355.35" width="95" height="2.2" fill="#fff"/>
<rect x="217" y="355.65" width="2" height="1.6" fill="#fff"/><rect x="318.5" y="355.65" width="2" height="1.6" fill="#fff"/>
<rect x="221.5" y="360.95" width="95" height="2.2" fill="#fff"/>
<rect x="217" y="361.25" width="2" height="1.6" fill="#fff"/><rect x="318.5" y="361.25" width="2" height="1.6" fill="#fff"/>
<rect x="263" y="365.25" width="12" height="1.5" fill="#fff"/>
<rect x="221.5" y="368.85" width="95" height="2.2" fill="#fff"/>
<rect x="217" y="369.15" width="2" height="1.6" fill="#fff"/><rect x="318.5" y="369.15" width="2" height="1.6" fill="#fff"/>
<rect x="221.5" y="374.45" width="95" height="2.2" fill="#fff"/>
<rect x="217" y="374.75" width="2" height="1.6" fill="#fff"/><rect x="318.5" y="374.75" width="2" height="1.6" fill="#fff"/>
<rect x="263" y="378.75" width="12" height="1.5" fill="#fff"/>
<rect x="221.5" y="382.35" width="95" height="2.2" fill="#fff"/>
<rect x="217" y="382.65" width="2" height="1.6" fill="#fff"/><rect x="318.5" y="382.65" width="2" height="1.6" fill="#fff"/>
<rect x="221.5" y="387.95" width="95" height="2.2" fill="#fff"/>
<rect x="217" y="388.25" width="2" height="1.6" fill="#fff"/><rect x="318.5" y="388.25" width="2" height="1.6" fill="#fff"/>
<rect x="263" y="392.25" width="12" height="1.5" fill="#fff"/>
<rect x="221.5" y="395.85" width="95" height="2.2" fill="#fff"/>
<rect x="217" y="396.15" width="2" height="1.6" fill="#fff"/><rect x="318.5" y="396.15" width="2" height="1.6" fill="#fff"/>
<rect x="221.5" y="401.45" width="95" height="2.2" fill="#fff"/>
<rect x="217" y="401.75" width="2" height="1.6" fill="#fff"/><rect x="318.5" y="401.75" width="2" height="1.6" fill="#fff"/>
<rect x="263" y="405.75" width="12" height="1.5" fill="#fff"/>
<rect x="221.5" y="409.35" width="95" height="2.2" fill="#fff"/>
<rect x="217" y="409.65" width="2" height="1.6" fill="#fff"/><rect x="318.5" y="409.65" width="2" height="1.6" fill="#fff"/>
<rect x="221.5" y="414.95" width="95" height="2.2" fill="#fff"/>
<rect x="217" y="415.25" width="2" height="1.6" fill="#fff"/><rect x="318.5" y="415.25" width="2" height="1.6" fill="#fff"/>
<rect x="263" y="419.25" width="12" height="1.5" fill="#fff"/>
<rect x="221.5" y="422.85" width="95" height="2.2" fill="#fff"/>
<rect x="217" y="423.15" width="2" height="1.6" fill="#fff"/><rect x="318.5" y="423.15" width="2" height="1.6" fill="#fff"/>
<rect x="221.5" y="428.45" width="95" height="2.2" fill="#fff"/>
<rect x="217" y="428.75" width="2" height="1.6" fill="#fff"/><rect x="318.5" y="428.75" width="2" height="1.6" fill="#fff"/>
<rect x="263" y="432.75" width="12" height="1.5" fill="#fff"/>
<rect x="221.5" y="436.35" width="95" height="2.2" fill="#fff"/>
<rect x="217" y="436.65" width="2" height="1.6" fill="#fff"/><rect x="318.5" y="436.65" width="2" height="1.6" fill="#fff"/>
<rect x="221.5" y="441.95" width="95" height="2.2" fill="#fff"/>
<rect x="217" y="442.25" width="2" height="1.6" fill="#fff"/><rect x="318.5" y="442.25" width="2" height="1.6" fill="#fff"/>
<rect x="213" y="159.6" width="111" height="5.8" fill="#fff"/><rect x="204.5" y="160.5" width="9" height="4.9" fill="#fff"/>
<rect x="221.5" y="171.9" width="95" height="1.6" fill="#fff"/>
<rect x="212" y="445" width="114" height="4.4" fill="#fff"/>
<rect x="240.5" y="253" width="3" height="3" fill="#000"/><rect x="293.5" y="366" width="3" height="3" fill="#000"/>
<path d="M195.6,156.5 H204.7 L208,158.6 H213 V172 L205,179 H195.6 Z" fill="#fff" stroke="#000" stroke-width="2.7"/>
<path d="M202.2,157 V179" stroke="#000" stroke-width="2.4"/><rect x="195.6" y="165.4" width="17.4" height="5.2" fill="#000"/>
<path d="M190,435.8 H166 A7.9,7.9 0 0 0 166,450.6 H190" fill="#fff" stroke="#000" stroke-width="2.7"/>
<path d="M173,436 A7.9,7.4 0 0 0 173,450.5" fill="none" stroke="#000" stroke-width="2"/>
<path d="M194.6,158.3 A34.5,34.5 0 0 0 160.1,192.8 L166.6,300 L183,300 L178.9,192.8 A15.7,15.7 0 0 1 194.6,177.1 Z" fill="#fff" stroke="#000" stroke-width="2.7" stroke-linejoin="round"/>
<path d="M160.5,191 Q170,187.5 179,191" fill="none" stroke="#000" stroke-width="1.8"/>
<path d="M166.4,300 L169.2,385 Q171,396 180,400" fill="none" stroke="#000" stroke-width="1.8"/>
<path d="M174.2,312 V375 M191.8,312 V375" stroke="#000" stroke-width="3.2"/>
<path d="M174,375 H192" stroke="#000" stroke-width="1.5"/>
<rect x="174.2" y="284.9" width="17.2" height="11.6" fill="#fff" stroke="#000" stroke-width="2.6"/>
<rect x="166.3" y="298.2" width="32.4" height="13.2" fill="#fff" stroke="#000" stroke-width="2.7"/>
<rect x="170" y="296" width="26" height="3" fill="#000"/>
<path d="M174,376 L193,445 A8.2,8.2 0 0 0 207.8,442 L192.5,380" fill="#fff" stroke="#000" stroke-width="2.7" stroke-linejoin="round"/>
<path d="M176.5,384.5 L191.5,379.5 M187,421.5 L201.5,417" stroke="#000" stroke-width="1.8"/>
<path d="M206,439 L213,447 L213,454 L195,455 L190,448" fill="none" stroke="#000" stroke-width="2.7"/>
<path d="M205,433 L214,441" stroke="#000" stroke-width="1.6"/>
<rect x="828" y="156" width="93" height="298" fill="#000"/>
<path d="M817,156 H932 L940,156 L940,178 L932,174 H817 Z" fill="#000"/>
<rect x="817" y="440" width="115" height="14.4" fill="#000"/>
<ellipse cx="828" cy="183.75" rx="11" ry="5.6" fill="#000"/>
<ellipse cx="921" cy="183.75" rx="11" ry="5.6" fill="#000"/>
<ellipse cx="828" cy="197.25" rx="11" ry="5.6" fill="#000"/>
<ellipse cx="921" cy="197.25" rx="11" ry="5.6" fill="#000"/>
<ellipse cx="828" cy="210.75" rx="11" ry="5.6" fill="#000"/>
<ellipse cx="921" cy="210.75" rx="11" ry="5.6" fill="#000"/>
<ellipse cx="828" cy="224.25" rx="11" ry="5.6" fill="#000"/>
<ellipse cx="921" cy="224.25" rx="11" ry="5.6" fill="#000"/>
<ellipse cx="828" cy="237.75" rx="11" ry="5.6" fill="#000"/>
<ellipse cx="921" cy="237.75" rx="11" ry="5.6" fill="#000"/>
<ellipse cx="828" cy="251.25" rx="11" ry="5.6" fill="#000"/>
<ellipse cx="921" cy="251.25" rx="11" ry="5.6" fill="#000"/>
<ellipse cx="828" cy="264.75" rx="11" ry="5.6" fill="#000"/>
<ellipse cx="921" cy="264.75" rx="11" ry="5.6" fill="#000"/>
<ellipse cx="828" cy="278.25" rx="11" ry="5.6" fill="#000"/>
<ellipse cx="921" cy="278.25" rx="11" ry="5.6" fill="#000"/>
<ellipse cx="828" cy="291.75" rx="11" ry="5.6" fill="#000"/>
<ellipse cx="921" cy="291.75" rx="11" ry="5.6" fill="#000"/>
<ellipse cx="828" cy="305.25" rx="11" ry="5.6" fill="#000"/>
<ellipse cx="921" cy="305.25" rx="11" ry="5.6" fill="#000"/>
<ellipse cx="828" cy="318.75" rx="11" ry="5.6" fill="#000"/>
<ellipse cx="921" cy="318.75" rx="11" ry="5.6" fill="#000"/>
<ellipse cx="828" cy="332.25" rx="11" ry="5.6" fill="#000"/>
<ellipse cx="921" cy="332.25" rx="11" ry="5.6" fill="#000"/>
<ellipse cx="828" cy="345.75" rx="11" ry="5.6" fill="#000"/>
<ellipse cx="921" cy="345.75" rx="11" ry="5.6" fill="#000"/>
<ellipse cx="828" cy="359.25" rx="11" ry="5.6" fill="#000"/>
<ellipse cx="921" cy="359.25" rx="11" ry="5.6" fill="#000"/>
<ellipse cx="828" cy="372.75" rx="11" ry="5.6" fill="#000"/>
<ellipse cx="921" cy="372.75" rx="11" ry="5.6" fill="#000"/>
<ellipse cx="828" cy="386.25" rx="11" ry="5.6" fill="#000"/>
<ellipse cx="921" cy="386.25" rx="11" ry="5.6" fill="#000"/>
<ellipse cx="828" cy="399.75" rx="11" ry="5.6" fill="#000"/>
<ellipse cx="921" cy="399.75" rx="11" ry="5.6" fill="#000"/>
<ellipse cx="828" cy="413.25" rx="11" ry="5.6" fill="#000"/>
<ellipse cx="921" cy="413.25" rx="11" ry="5.6" fill="#000"/>
<ellipse cx="828" cy="426.75" rx="11" ry="5.6" fill="#000"/>
<ellipse cx="921" cy="426.75" rx="11" ry="5.6" fill="#000"/>
<ellipse cx="828" cy="440.25" rx="11" ry="5.6" fill="#000"/>
<ellipse cx="921" cy="440.25" rx="11" ry="5.6" fill="#000"/>
<ellipse cx="828" cy="170.25" rx="11" ry="5.6" fill="#000"/>
<ellipse cx="921" cy="170.25" rx="11" ry="5.6" fill="#000"/>
<ellipse cx="828" cy="183.75" rx="11" ry="5.6" fill="#000"/>
<ellipse cx="921" cy="183.75" rx="11" ry="5.6" fill="#000"/>
<ellipse cx="828" cy="197.25" rx="11" ry="5.6" fill="#000"/>
<ellipse cx="921" cy="197.25" rx="11" ry="5.6" fill="#000"/>
<ellipse cx="828" cy="210.75" rx="11" ry="5.6" fill="#000"/>
<ellipse cx="921" cy="210.75" rx="11" ry="5.6" fill="#000"/>
<ellipse cx="828" cy="224.25" rx="11" ry="5.6" fill="#000"/>
<ellipse cx="921" cy="224.25" rx="11" ry="5.6" fill="#000"/>
<ellipse cx="828" cy="237.75" rx="11" ry="5.6" fill="#000"/>
<ellipse cx="921" cy="237.75" rx="11" ry="5.6" fill="#000"/>
<ellipse cx="828" cy="251.25" rx="11" ry="5.6" fill="#000"/>
<ellipse cx="921" cy="251.25" rx="11" ry="5.6" fill="#000"/>
<ellipse cx="828" cy="264.75" rx="11" ry="5.6" fill="#000"/>
<ellipse cx="921" cy="264.75" rx="11" ry="5.6" fill="#000"/>
<ellipse cx="828" cy="278.25" rx="11" ry="5.6" fill="#000"/>
<ellipse cx="921" cy="278.25" rx="11" ry="5.6" fill="#000"/>
<ellipse cx="828" cy="291.75" rx="11" ry="5.6" fill="#000"/>
<ellipse cx="921" cy="291.75" rx="11" ry="5.6" fill="#000"/>
<ellipse cx="828" cy="305.25" rx="11" ry="5.6" fill="#000"/>
<ellipse cx="921" cy="305.25" rx="11" ry="5.6" fill="#000"/>
<ellipse cx="828" cy="318.75" rx="11" ry="5.6" fill="#000"/>
<ellipse cx="921" cy="318.75" rx="11" ry="5.6" fill="#000"/>
<ellipse cx="828" cy="332.25" rx="11" ry="5.6" fill="#000"/>
<ellipse cx="921" cy="332.25" rx="11" ry="5.6" fill="#000"/>
<ellipse cx="828" cy="345.75" rx="11" ry="5.6" fill="#000"/>
<ellipse cx="921" cy="345.75" rx="11" ry="5.6" fill="#000"/>
<ellipse cx="828" cy="359.25" rx="11" ry="5.6" fill="#000"/>
<ellipse cx="921" cy="359.25" rx="11" ry="5.6" fill="#000"/>
<ellipse cx="828" cy="372.75" rx="11" ry="5.6" fill="#000"/>
<ellipse cx="921" cy="372.75" rx="11" ry="5.6" fill="#000"/>
<ellipse cx="828" cy="386.25" rx="11" ry="5.6" fill="#000"/>
<ellipse cx="921" cy="386.25" rx="11" ry="5.6" fill="#000"/>
<ellipse cx="828" cy="399.75" rx="11" ry="5.6" fill="#000"/>
<ellipse cx="921" cy="399.75" rx="11" ry="5.6" fill="#000"/>
<ellipse cx="828" cy="413.25" rx="11" ry="5.6" fill="#000"/>
<ellipse cx="921" cy="413.25" rx="11" ry="5.6" fill="#000"/>
<ellipse cx="828" cy="426.75" rx="11" ry="5.6" fill="#000"/>
<ellipse cx="921" cy="426.75" rx="11" ry="5.6" fill="#000"/>
<ellipse cx="828" cy="440.25" rx="11" ry="5.6" fill="#000"/>
<ellipse cx="921" cy="440.25" rx="11" ry="5.6" fill="#000"/>
<rect x="830.5" y="180.45" width="11.0" height="1" fill="#fff" fill-opacity="0.8"/>
<rect x="844" y="180.45" width="8" height="1" fill="#fff" fill-opacity="0.8"/>
<rect x="870" y="180.45" width="9" height="1" fill="#fff" fill-opacity="0.8"/>
<rect x="897" y="180.45" width="7.5" height="1" fill="#fff" fill-opacity="0.8"/>
<rect x="906.5" y="180.45" width="12.5" height="1" fill="#fff" fill-opacity="0.8"/>
<path d="M854,180.95 Q860.75,179.75 867.5,180.95 Q860.75,182.15 854,180.95 Z" fill="#fff" fill-opacity="0.85"/>
<path d="M881.8,180.95 Q888.25,179.75 894.7,180.95 Q888.25,182.15 881.8,180.95 Z" fill="#fff" fill-opacity="0.85"/>
<rect x="830.5" y="186.45" width="11.0" height="1" fill="#fff" fill-opacity="0.8"/>
<rect x="844" y="186.45" width="8" height="1" fill="#fff" fill-opacity="0.8"/>
<rect x="870" y="186.45" width="9" height="1" fill="#fff" fill-opacity="0.8"/>
<rect x="897" y="186.45" width="7.5" height="1" fill="#fff" fill-opacity="0.8"/>
<rect x="906.5" y="186.45" width="12.5" height="1" fill="#fff" fill-opacity="0.8"/>
<path d="M854,186.95 Q860.75,185.75 867.5,186.95 Q860.75,188.15 854,186.95 Z" fill="#fff" fill-opacity="0.85"/>
<path d="M881.8,186.95 Q888.25,185.75 894.7,186.95 Q888.25,188.15 881.8,186.95 Z" fill="#fff" fill-opacity="0.85"/>
<rect x="831" y="188.75" width="10.5" height="0.8" fill="#fff" fill-opacity="0.35"/>
<rect x="844" y="188.75" width="8" height="0.8" fill="#fff" fill-opacity="0.35"/>
<rect x="897" y="188.75" width="7.5" height="0.8" fill="#fff" fill-opacity="0.35"/>
<rect x="906.5" y="188.75" width="12.5" height="0.8" fill="#fff" fill-opacity="0.35"/>
<rect x="831" y="191.45" width="10.5" height="0.8" fill="#fff" fill-opacity="0.35"/>
<rect x="844" y="191.45" width="8" height="0.8" fill="#fff" fill-opacity="0.35"/>
<rect x="897" y="191.45" width="7.5" height="0.8" fill="#fff" fill-opacity="0.35"/>
<rect x="906.5" y="191.45" width="12.5" height="0.8" fill="#fff" fill-opacity="0.35"/>
<rect x="868" y="189.80" width="12.5" height="1.4" fill="#fff"/>
<rect x="825" y="180.15" width="1.6" height="1.6" fill="#fff"/><rect x="825" y="185.75" width="1.6" height="1.6" fill="#fff"/>
<rect x="922.5" y="180.15" width="1.6" height="1.6" fill="#fff"/><rect x="922.5" y="185.75" width="1.6" height="1.6" fill="#fff"/>
<rect x="830.5" y="193.95" width="11.0" height="1" fill="#fff" fill-opacity="0.8"/>
<rect x="844" y="193.95" width="8" height="1" fill="#fff" fill-opacity="0.8"/>
<rect x="870" y="193.95" width="9" height="1" fill="#fff" fill-opacity="0.8"/>
<rect x="897" y="193.95" width="7.5" height="1" fill="#fff" fill-opacity="0.8"/>
<rect x="906.5" y="193.95" width="12.5" height="1" fill="#fff" fill-opacity="0.8"/>
<path d="M854,194.45 Q860.75,193.25 867.5,194.45 Q860.75,195.65 854,194.45 Z" fill="#fff" fill-opacity="0.85"/>
<path d="M881.8,194.45 Q888.25,193.25 894.7,194.45 Q888.25,195.65 881.8,194.45 Z" fill="#fff" fill-opacity="0.85"/>
<rect x="830.5" y="199.95" width="11.0" height="1" fill="#fff" fill-opacity="0.8"/>
<rect x="844" y="199.95" width="8" height="1" fill="#fff" fill-opacity="0.8"/>
<rect x="870" y="199.95" width="9" height="1" fill="#fff" fill-opacity="0.8"/>
<rect x="897" y="199.95" width="7.5" height="1" fill="#fff" fill-opacity="0.8"/>
<rect x="906.5" y="199.95" width="12.5" height="1" fill="#fff" fill-opacity="0.8"/>
<path d="M854,200.45 Q860.75,199.25 867.5,200.45 Q860.75,201.65 854,200.45 Z" fill="#fff" fill-opacity="0.85"/>
<path d="M881.8,200.45 Q888.25,199.25 894.7,200.45 Q888.25,201.65 881.8,200.45 Z" fill="#fff" fill-opacity="0.85"/>
<rect x="831" y="202.25" width="10.5" height="0.8" fill="#fff" fill-opacity="0.35"/>
<rect x="844" y="202.25" width="8" height="0.8" fill="#fff" fill-opacity="0.35"/>
<rect x="897" y="202.25" width="7.5" height="0.8" fill="#fff" fill-opacity="0.35"/>
<rect x="906.5" y="202.25" width="12.5" height="0.8" fill="#fff" fill-opacity="0.35"/>
<rect x="831" y="204.95" width="10.5" height="0.8" fill="#fff" fill-opacity="0.35"/>
<rect x="844" y="204.95" width="8" height="0.8" fill="#fff" fill-opacity="0.35"/>
<rect x="897" y="204.95" width="7.5" height="0.8" fill="#fff" fill-opacity="0.35"/>
<rect x="906.5" y="204.95" width="12.5" height="0.8" fill="#fff" fill-opacity="0.35"/>
<rect x="868" y="203.30" width="12.5" height="1.4" fill="#fff"/>
<rect x="825" y="193.65" width="1.6" height="1.6" fill="#fff"/><rect x="825" y="199.25" width="1.6" height="1.6" fill="#fff"/>
<rect x="922.5" y="193.65" width="1.6" height="1.6" fill="#fff"/><rect x="922.5" y="199.25" width="1.6" height="1.6" fill="#fff"/>
<rect x="830.5" y="207.45" width="11.0" height="1" fill="#fff" fill-opacity="0.8"/>
<rect x="844" y="207.45" width="8" height="1" fill="#fff" fill-opacity="0.8"/>
<rect x="870" y="207.45" width="9" height="1" fill="#fff" fill-opacity="0.8"/>
<rect x="897" y="207.45" width="7.5" height="1" fill="#fff" fill-opacity="0.8"/>
<rect x="906.5" y="207.45" width="12.5" height="1" fill="#fff" fill-opacity="0.8"/>
<path d="M854,207.95 Q860.75,206.75 867.5,207.95 Q860.75,209.15 854,207.95 Z" fill="#fff" fill-opacity="0.85"/>
<path d="M881.8,207.95 Q888.25,206.75 894.7,207.95 Q888.25,209.15 881.8,207.95 Z" fill="#fff" fill-opacity="0.85"/>
<rect x="830.5" y="213.45" width="11.0" height="1" fill="#fff" fill-opacity="0.8"/>
<rect x="844" y="213.45" width="8" height="1" fill="#fff" fill-opacity="0.8"/>
<rect x="870" y="213.45" width="9" height="1" fill="#fff" fill-opacity="0.8"/>
<rect x="897" y="213.45" width="7.5" height="1" fill="#fff" fill-opacity="0.8"/>
<rect x="906.5" y="213.45" width="12.5" height="1" fill="#fff" fill-opacity="0.8"/>
<path d="M854,213.95 Q860.75,212.75 867.5,213.95 Q860.75,215.15 854,213.95 Z" fill="#fff" fill-opacity="0.85"/>
<path d="M881.8,213.95 Q888.25,212.75 894.7,213.95 Q888.25,215.15 881.8,213.95 Z" fill="#fff" fill-opacity="0.85"/>
<rect x="831" y="215.75" width="10.5" height="0.8" fill="#fff" fill-opacity="0.35"/>
<rect x="844" y="215.75" width="8" height="0.8" fill="#fff" fill-opacity="0.35"/>
<rect x="897" y="215.75" width="7.5" height="0.8" fill="#fff" fill-opacity="0.35"/>
<rect x="906.5" y="215.75" width="12.5" height="0.8" fill="#fff" fill-opacity="0.35"/>
<rect x="831" y="218.45" width="10.5" height="0.8" fill="#fff" fill-opacity="0.35"/>
<rect x="844" y="218.45" width="8" height="0.8" fill="#fff" fill-opacity="0.35"/>
<rect x="897" y="218.45" width="7.5" height="0.8" fill="#fff" fill-opacity="0.35"/>
<rect x="906.5" y="218.45" width="12.5" height="0.8" fill="#fff" fill-opacity="0.35"/>
<rect x="868" y="216.80" width="12.5" height="1.4" fill="#fff"/>
<rect x="825" y="207.15" width="1.6" height="1.6" fill="#fff"/><rect x="825" y="212.75" width="1.6" height="1.6" fill="#fff"/>
<rect x="922.5" y="207.15" width="1.6" height="1.6" fill="#fff"/><rect x="922.5" y="212.75" width="1.6" height="1.6" fill="#fff"/>
<rect x="830.5" y="220.95" width="11.0" height="1" fill="#fff" fill-opacity="0.8"/>
<rect x="844" y="220.95" width="8" height="1" fill="#fff" fill-opacity="0.8"/>
<rect x="870" y="220.95" width="9" height="1" fill="#fff" fill-opacity="0.8"/>
<rect x="897" y="220.95" width="7.5" height="1" fill="#fff" fill-opacity="0.8"/>
<rect x="906.5" y="220.95" width="12.5" height="1" fill="#fff" fill-opacity="0.8"/>
<path d="M854,221.45 Q860.75,220.25 867.5,221.45 Q860.75,222.65 854,221.45 Z" fill="#fff" fill-opacity="0.85"/>
<path d="M881.8,221.45 Q888.25,220.25 894.7,221.45 Q888.25,222.65 881.8,221.45 Z" fill="#fff" fill-opacity="0.85"/>
<rect x="830.5" y="226.95" width="11.0" height="1" fill="#fff" fill-opacity="0.8"/>
<rect x="844" y="226.95" width="8" height="1" fill="#fff" fill-opacity="0.8"/>
<rect x="870" y="226.95" width="9" height="1" fill="#fff" fill-opacity="0.8"/>
<rect x="897" y="226.95" width="7.5" height="1" fill="#fff" fill-opacity="0.8"/>
<rect x="906.5" y="226.95" width="12.5" height="1" fill="#fff" fill-opacity="0.8"/>
<path d="M854,227.45 Q860.75,226.25 867.5,227.45 Q860.75,228.65 854,227.45 Z" fill="#fff" fill-opacity="0.85"/>
<path d="M881.8,227.45 Q888.25,226.25 894.7,227.45 Q888.25,228.65 881.8,227.45 Z" fill="#fff" fill-opacity="0.85"/>
<rect x="831" y="229.25" width="10.5" height="0.8" fill="#fff" fill-opacity="0.35"/>
<rect x="844" y="229.25" width="8" height="0.8" fill="#fff" fill-opacity="0.35"/>
<rect x="897" y="229.25" width="7.5" height="0.8" fill="#fff" fill-opacity="0.35"/>
<rect x="906.5" y="229.25" width="12.5" height="0.8" fill="#fff" fill-opacity="0.35"/>
<rect x="831" y="231.95" width="10.5" height="0.8" fill="#fff" fill-opacity="0.35"/>
<rect x="844" y="231.95" width="8" height="0.8" fill="#fff" fill-opacity="0.35"/>
<rect x="897" y="231.95" width="7.5" height="0.8" fill="#fff" fill-opacity="0.35"/>
<rect x="906.5" y="231.95" width="12.5" height="0.8" fill="#fff" fill-opacity="0.35"/>
<rect x="868" y="230.30" width="12.5" height="1.4" fill="#fff"/>
<rect x="825" y="220.65" width="1.6" height="1.6" fill="#fff"/><rect x="825" y="226.25" width="1.6" height="1.6" fill="#fff"/>
<rect x="922.5" y="220.65" width="1.6" height="1.6" fill="#fff"/><rect x="922.5" y="226.25" width="1.6" height="1.6" fill="#fff"/>
<rect x="830.5" y="234.45" width="11.0" height="1" fill="#fff" fill-opacity="0.8"/>
<rect x="844" y="234.45" width="8" height="1" fill="#fff" fill-opacity="0.8"/>
<rect x="870" y="234.45" width="9" height="1" fill="#fff" fill-opacity="0.8"/>
<rect x="897" y="234.45" width="7.5" height="1" fill="#fff" fill-opacity="0.8"/>
<rect x="906.5" y="234.45" width="12.5" height="1" fill="#fff" fill-opacity="0.8"/>
<path d="M854,234.95 Q860.75,233.75 867.5,234.95 Q860.75,236.15 854,234.95 Z" fill="#fff" fill-opacity="0.85"/>
<path d="M881.8,234.95 Q888.25,233.75 894.7,234.95 Q888.25,236.15 881.8,234.95 Z" fill="#fff" fill-opacity="0.85"/>
<rect x="830.5" y="240.45" width="11.0" height="1" fill="#fff" fill-opacity="0.8"/>
<rect x="844" y="240.45" width="8" height="1" fill="#fff" fill-opacity="0.8"/>
<rect x="870" y="240.45" width="9" height="1" fill="#fff" fill-opacity="0.8"/>
<rect x="897" y="240.45" width="7.5" height="1" fill="#fff" fill-opacity="0.8"/>
<rect x="906.5" y="240.45" width="12.5" height="1" fill="#fff" fill-opacity="0.8"/>
<path d="M854,240.95 Q860.75,239.75 867.5,240.95 Q860.75,242.15 854,240.95 Z" fill="#fff" fill-opacity="0.85"/>
<path d="M881.8,240.95 Q888.25,239.75 894.7,240.95 Q888.25,242.15 881.8,240.95 Z" fill="#fff" fill-opacity="0.85"/>
<rect x="831" y="242.75" width="10.5" height="0.8" fill="#fff" fill-opacity="0.35"/>
<rect x="844" y="242.75" width="8" height="0.8" fill="#fff" fill-opacity="0.35"/>
<rect x="897" y="242.75" width="7.5" height="0.8" fill="#fff" fill-opacity="0.35"/>
<rect x="906.5" y="242.75" width="12.5" height="0.8" fill="#fff" fill-opacity="0.35"/>
<rect x="831" y="245.45" width="10.5" height="0.8" fill="#fff" fill-opacity="0.35"/>
<rect x="844" y="245.45" width="8" height="0.8" fill="#fff" fill-opacity="0.35"/>
<rect x="897" y="245.45" width="7.5" height="0.8" fill="#fff" fill-opacity="0.35"/>
<rect x="906.5" y="245.45" width="12.5" height="0.8" fill="#fff" fill-opacity="0.35"/>
<rect x="868" y="243.80" width="12.5" height="1.4" fill="#fff"/>
<rect x="825" y="234.15" width="1.6" height="1.6" fill="#fff"/><rect x="825" y="239.75" width="1.6" height="1.6" fill="#fff"/>
<rect x="922.5" y="234.15" width="1.6" height="1.6" fill="#fff"/><rect x="922.5" y="239.75" width="1.6" height="1.6" fill="#fff"/>
<rect x="830.5" y="247.95" width="11.0" height="1" fill="#fff" fill-opacity="0.8"/>
<rect x="844" y="247.95" width="8" height="1" fill="#fff" fill-opacity="0.8"/>
<rect x="870" y="247.95" width="9" height="1" fill="#fff" fill-opacity="0.8"/>
<rect x="897" y="247.95" width="7.5" height="1" fill="#fff" fill-opacity="0.8"/>
<rect x="906.5" y="247.95" width="12.5" height="1" fill="#fff" fill-opacity="0.8"/>
<path d="M854,248.45 Q860.75,247.25 867.5,248.45 Q860.75,249.65 854,248.45 Z" fill="#fff" fill-opacity="0.85"/>
<path d="M881.8,248.45 Q888.25,247.25 894.7,248.45 Q888.25,249.65 881.8,248.45 Z" fill="#fff" fill-opacity="0.85"/>
<rect x="830.5" y="253.95" width="11.0" height="1" fill="#fff" fill-opacity="0.8"/>
<rect x="844" y="253.95" width="8" height="1" fill="#fff" fill-opacity="0.8"/>
<rect x="870" y="253.95" width="9" height="1" fill="#fff" fill-opacity="0.8"/>
<rect x="897" y="253.95" width="7.5" height="1" fill="#fff" fill-opacity="0.8"/>
<rect x="906.5" y="253.95" width="12.5" height="1" fill="#fff" fill-opacity="0.8"/>
<path d="M854,254.45 Q860.75,253.25 867.5,254.45 Q860.75,255.65 854,254.45 Z" fill="#fff" fill-opacity="0.85"/>
<path d="M881.8,254.45 Q888.25,253.25 894.7,254.45 Q888.25,255.65 881.8,254.45 Z" fill="#fff" fill-opacity="0.85"/>
<rect x="831" y="256.25" width="10.5" height="0.8" fill="#fff" fill-opacity="0.35"/>
<rect x="844" y="256.25" width="8" height="0.8" fill="#fff" fill-opacity="0.35"/>
<rect x="897" y="256.25" width="7.5" height="0.8" fill="#fff" fill-opacity="0.35"/>
<rect x="906.5" y="256.25" width="12.5" height="0.8" fill="#fff" fill-opacity="0.35"/>
<rect x="831" y="258.95" width="10.5" height="0.8" fill="#fff" fill-opacity="0.35"/>
<rect x="844" y="258.95" width="8" height="0.8" fill="#fff" fill-opacity="0.35"/>
<rect x="897" y="258.95" width="7.5" height="0.8" fill="#fff" fill-opacity="0.35"/>
<rect x="906.5" y="258.95" width="12.5" height="0.8" fill="#fff" fill-opacity="0.35"/>
<rect x="868" y="257.30" width="12.5" height="1.4" fill="#fff"/>
<rect x="825" y="247.65" width="1.6" height="1.6" fill="#fff"/><rect x="825" y="253.25" width="1.6" height="1.6" fill="#fff"/>
<rect x="922.5" y="247.65" width="1.6" height="1.6" fill="#fff"/><rect x="922.5" y="253.25" width="1.6" height="1.6" fill="#fff"/>
<rect x="830.5" y="261.45" width="11.0" height="1" fill="#fff" fill-opacity="0.8"/>
<rect x="844" y="261.45" width="8" height="1" fill="#fff" fill-opacity="0.8"/>
<rect x="870" y="261.45" width="9" height="1" fill="#fff" fill-opacity="0.8"/>
<rect x="897" y="261.45" width="7.5" height="1" fill="#fff" fill-opacity="0.8"/>
<rect x="906.5" y="261.45" width="12.5" height="1" fill="#fff" fill-opacity="0.8"/>
<path d="M854,261.95 Q860.75,260.75 867.5,261.95 Q860.75,263.15 854,261.95 Z" fill="#fff" fill-opacity="0.85"/>
<path d="M881.8,261.95 Q888.25,260.75 894.7,261.95 Q888.25,263.15 881.8,261.95 Z" fill="#fff" fill-opacity="0.85"/>
<rect x="830.5" y="267.45" width="11.0" height="1" fill="#fff" fill-opacity="0.8"/>
<rect x="844" y="267.45" width="8" height="1" fill="#fff" fill-opacity="0.8"/>
<rect x="870" y="267.45" width="9" height="1" fill="#fff" fill-opacity="0.8"/>
<rect x="897" y="267.45" width="7.5" height="1" fill="#fff" fill-opacity="0.8"/>
<rect x="906.5" y="267.45" width="12.5" height="1" fill="#fff" fill-opacity="0.8"/>
<path d="M854,267.95 Q860.75,266.75 867.5,267.95 Q860.75,269.15 854,267.95 Z" fill="#fff" fill-opacity="0.85"/>
<path d="M881.8,267.95 Q888.25,266.75 894.7,267.95 Q888.25,269.15 881.8,267.95 Z" fill="#fff" fill-opacity="0.85"/>
<rect x="831" y="269.75" width="10.5" height="0.8" fill="#fff" fill-opacity="0.35"/>
<rect x="844" y="269.75" width="8" height="0.8" fill="#fff" fill-opacity="0.35"/>
<rect x="897" y="269.75" width="7.5" height="0.8" fill="#fff" fill-opacity="0.35"/>
<rect x="906.5" y="269.75" width="12.5" height="0.8" fill="#fff" fill-opacity="0.35"/>
<rect x="831" y="272.45" width="10.5" height="0.8" fill="#fff" fill-opacity="0.35"/>
<rect x="844" y="272.45" width="8" height="0.8" fill="#fff" fill-opacity="0.35"/>
<rect x="897" y="272.45" width="7.5" height="0.8" fill="#fff" fill-opacity="0.35"/>
<rect x="906.5" y="272.45" width="12.5" height="0.8" fill="#fff" fill-opacity="0.35"/>
<rect x="868" y="270.80" width="12.5" height="1.4" fill="#fff"/>
<rect x="825" y="261.15" width="1.6" height="1.6" fill="#fff"/><rect x="825" y="266.75" width="1.6" height="1.6" fill="#fff"/>
<rect x="922.5" y="261.15" width="1.6" height="1.6" fill="#fff"/><rect x="922.5" y="266.75" width="1.6" height="1.6" fill="#fff"/>
<rect x="830.5" y="274.95" width="11.0" height="1" fill="#fff" fill-opacity="0.8"/>
<rect x="844" y="274.95" width="8" height="1" fill="#fff" fill-opacity="0.8"/>
<rect x="870" y="274.95" width="9" height="1" fill="#fff" fill-opacity="0.8"/>
<rect x="897" y="274.95" width="7.5" height="1" fill="#fff" fill-opacity="0.8"/>
<rect x="906.5" y="274.95" width="12.5" height="1" fill="#fff" fill-opacity="0.8"/>
<path d="M854,275.45 Q860.75,274.25 867.5,275.45 Q860.75,276.65 854,275.45 Z" fill="#fff" fill-opacity="0.85"/>
<path d="M881.8,275.45 Q888.25,274.25 894.7,275.45 Q888.25,276.65 881.8,275.45 Z" fill="#fff" fill-opacity="0.85"/>
<rect x="830.5" y="280.95" width="11.0" height="1" fill="#fff" fill-opacity="0.8"/>
<rect x="844" y="280.95" width="8" height="1" fill="#fff" fill-opacity="0.8"/>
<rect x="870" y="280.95" width="9" height="1" fill="#fff" fill-opacity="0.8"/>
<rect x="897" y="280.95" width="7.5" height="1" fill="#fff" fill-opacity="0.8"/>
<rect x="906.5" y="280.95" width="12.5" height="1" fill="#fff" fill-opacity="0.8"/>
<path d="M854,281.45 Q860.75,280.25 867.5,281.45 Q860.75,282.65 854,281.45 Z" fill="#fff" fill-opacity="0.85"/>
<path d="M881.8,281.45 Q888.25,280.25 894.7,281.45 Q888.25,282.65 881.8,281.45 Z" fill="#fff" fill-opacity="0.85"/>
<rect x="831" y="283.25" width="10.5" height="0.8" fill="#fff" fill-opacity="0.35"/>
<rect x="844" y="283.25" width="8" height="0.8" fill="#fff" fill-opacity="0.35"/>
<rect x="897" y="283.25" width="7.5" height="0.8" fill="#fff" fill-opacity="0.35"/>
<rect x="906.5" y="283.25" width="12.5" height="0.8" fill="#fff" fill-opacity="0.35"/>
<rect x="831" y="285.95" width="10.5" height="0.8" fill="#fff" fill-opacity="0.35"/>
<rect x="844" y="285.95" width="8" height="0.8" fill="#fff" fill-opacity="0.35"/>
<rect x="897" y="285.95" width="7.5" height="0.8" fill="#fff" fill-opacity="0.35"/>
<rect x="906.5" y="285.95" width="12.5" height="0.8" fill="#fff" fill-opacity="0.35"/>
<rect x="868" y="284.30" width="12.5" height="1.4" fill="#fff"/>
<rect x="825" y="274.65" width="1.6" height="1.6" fill="#fff"/><rect x="825" y="280.25" width="1.6" height="1.6" fill="#fff"/>
<rect x="922.5" y="274.65" width="1.6" height="1.6" fill="#fff"/><rect x="922.5" y="280.25" width="1.6" height="1.6" fill="#fff"/>
<rect x="830.5" y="288.45" width="11.0" height="1" fill="#fff" fill-opacity="0.8"/>
<rect x="844" y="288.45" width="8" height="1" fill="#fff" fill-opacity="0.8"/>
<rect x="870" y="288.45" width="9" height="1" fill="#fff" fill-opacity="0.8"/>
<rect x="897" y="288.45" width="7.5" height="1" fill="#fff" fill-opacity="0.8"/>
<rect x="906.5" y="288.45" width="12.5" height="1" fill="#fff" fill-opacity="0.8"/>
<path d="M854,288.95 Q860.75,287.75 867.5,288.95 Q860.75,290.15 854,288.95 Z" fill="#fff" fill-opacity="0.85"/>
<path d="M881.8,288.95 Q888.25,287.75 894.7,288.95 Q888.25,290.15 881.8,288.95 Z" fill="#fff" fill-opacity="0.85"/>
<rect x="830.5" y="294.45" width="11.0" height="1" fill="#fff" fill-opacity="0.8"/>
<rect x="844" y="294.45" width="8" height="1" fill="#fff" fill-opacity="0.8"/>
<rect x="870" y="294.45" width="9" height="1" fill="#fff" fill-opacity="0.8"/>
<rect x="897" y="294.45" width="7.5" height="1" fill="#fff" fill-opacity="0.8"/>
<rect x="906.5" y="294.45" width="12.5" height="1" fill="#fff" fill-opacity="0.8"/>
<path d="M854,294.95 Q860.75,293.75 867.5,294.95 Q860.75,296.15 854,294.95 Z" fill="#fff" fill-opacity="0.85"/>
<path d="M881.8,294.95 Q888.25,293.75 894.7,294.95 Q888.25,296.15 881.8,294.95 Z" fill="#fff" fill-opacity="0.85"/>
<rect x="831" y="296.75" width="10.5" height="0.8" fill="#fff" fill-opacity="0.35"/>
<rect x="844" y="296.75" width="8" height="0.8" fill="#fff" fill-opacity="0.35"/>
<rect x="897" y="296.75" width="7.5" height="0.8" fill="#fff" fill-opacity="0.35"/>
<rect x="906.5" y="296.75" width="12.5" height="0.8" fill="#fff" fill-opacity="0.35"/>
<rect x="831" y="299.45" width="10.5" height="0.8" fill="#fff" fill-opacity="0.35"/>
<rect x="844" y="299.45" width="8" height="0.8" fill="#fff" fill-opacity="0.35"/>
<rect x="897" y="299.45" width="7.5" height="0.8" fill="#fff" fill-opacity="0.35"/>
<rect x="906.5" y="299.45" width="12.5" height="0.8" fill="#fff" fill-opacity="0.35"/>
<rect x="868" y="297.80" width="12.5" height="1.4" fill="#fff"/>
<rect x="825" y="288.15" width="1.6" height="1.6" fill="#fff"/><rect x="825" y="293.75" width="1.6" height="1.6" fill="#fff"/>
<rect x="922.5" y="288.15" width="1.6" height="1.6" fill="#fff"/><rect x="922.5" y="293.75" width="1.6" height="1.6" fill="#fff"/>
<rect x="830.5" y="301.95" width="11.0" height="1" fill="#fff" fill-opacity="0.8"/>
<rect x="844" y="301.95" width="8" height="1" fill="#fff" fill-opacity="0.8"/>
<rect x="870" y="301.95" width="9" height="1" fill="#fff" fill-opacity="0.8"/>
<rect x="897" y="301.95" width="7.5" height="1" fill="#fff" fill-opacity="0.8"/>
<rect x="906.5" y="301.95" width="12.5" height="1" fill="#fff" fill-opacity="0.8"/>
<path d="M854,302.45 Q860.75,301.25 867.5,302.45 Q860.75,303.65 854,302.45 Z" fill="#fff" fill-opacity="0.85"/>
<path d="M881.8,302.45 Q888.25,301.25 894.7,302.45 Q888.25,303.65 881.8,302.45 Z" fill="#fff" fill-opacity="0.85"/>
<rect x="830.5" y="307.95" width="11.0" height="1" fill="#fff" fill-opacity="0.8"/>
<rect x="844" y="307.95" width="8" height="1" fill="#fff" fill-opacity="0.8"/>
<rect x="870" y="307.95" width="9" height="1" fill="#fff" fill-opacity="0.8"/>
<rect x="897" y="307.95" width="7.5" height="1" fill="#fff" fill-opacity="0.8"/>
<rect x="906.5" y="307.95" width="12.5" height="1" fill="#fff" fill-opacity="0.8"/>
<path d="M854,308.45 Q860.75,307.25 867.5,308.45 Q860.75,309.65 854,308.45 Z" fill="#fff" fill-opacity="0.85"/>
<path d="M881.8,308.45 Q888.25,307.25 894.7,308.45 Q888.25,309.65 881.8,308.45 Z" fill="#fff" fill-opacity="0.85"/>
<rect x="831" y="310.25" width="10.5" height="0.8" fill="#fff" fill-opacity="0.35"/>
<rect x="844" y="310.25" width="8" height="0.8" fill="#fff" fill-opacity="0.35"/>
<rect x="897" y="310.25" width="7.5" height="0.8" fill="#fff" fill-opacity="0.35"/>
<rect x="906.5" y="310.25" width="12.5" height="0.8" fill="#fff" fill-opacity="0.35"/>
<rect x="831" y="312.95" width="10.5" height="0.8" fill="#fff" fill-opacity="0.35"/>
<rect x="844" y="312.95" width="8" height="0.8" fill="#fff" fill-opacity="0.35"/>
<rect x="897" y="312.95" width="7.5" height="0.8" fill="#fff" fill-opacity="0.35"/>
<rect x="906.5" y="312.95" width="12.5" height="0.8" fill="#fff" fill-opacity="0.35"/>
<rect x="868" y="311.30" width="12.5" height="1.4" fill="#fff"/>
<rect x="825" y="301.65" width="1.6" height="1.6" fill="#fff"/><rect x="825" y="307.25" width="1.6" height="1.6" fill="#fff"/>
<rect x="922.5" y="301.65" width="1.6" height="1.6" fill="#fff"/><rect x="922.5" y="307.25" width="1.6" height="1.6" fill="#fff"/>
<rect x="830.5" y="315.45" width="11.0" height="1" fill="#fff" fill-opacity="0.8"/>
<rect x="844" y="315.45" width="8" height="1" fill="#fff" fill-opacity="0.8"/>
<rect x="870" y="315.45" width="9" height="1" fill="#fff" fill-opacity="0.8"/>
<rect x="897" y="315.45" width="7.5" height="1" fill="#fff" fill-opacity="0.8"/>
<rect x="906.5" y="315.45" width="12.5" height="1" fill="#fff" fill-opacity="0.8"/>
<path d="M854,315.95 Q860.75,314.75 867.5,315.95 Q860.75,317.15 854,315.95 Z" fill="#fff" fill-opacity="0.85"/>
<path d="M881.8,315.95 Q888.25,314.75 894.7,315.95 Q888.25,317.15 881.8,315.95 Z" fill="#fff" fill-opacity="0.85"/>
<rect x="830.5" y="321.45" width="11.0" height="1" fill="#fff" fill-opacity="0.8"/>
<rect x="844" y="321.45" width="8" height="1" fill="#fff" fill-opacity="0.8"/>
<rect x="870" y="321.45" width="9" height="1" fill="#fff" fill-opacity="0.8"/>
<rect x="897" y="321.45" width="7.5" height="1" fill="#fff" fill-opacity="0.8"/>
<rect x="906.5" y="321.45" width="12.5" height="1" fill="#fff" fill-opacity="0.8"/>
<path d="M854,321.95 Q860.75,320.75 867.5,321.95 Q860.75,323.15 854,321.95 Z" fill="#fff" fill-opacity="0.85"/>
<path d="M881.8,321.95 Q888.25,320.75 894.7,321.95 Q888.25,323.15 881.8,321.95 Z" fill="#fff" fill-opacity="0.85"/>
<rect x="831" y="323.75" width="10.5" height="0.8" fill="#fff" fill-opacity="0.35"/>
<rect x="844" y="323.75" width="8" height="0.8" fill="#fff" fill-opacity="0.35"/>
<rect x="897" y="323.75" width="7.5" height="0.8" fill="#fff" fill-opacity="0.35"/>
<rect x="906.5" y="323.75" width="12.5" height="0.8" fill="#fff" fill-opacity="0.35"/>
<rect x="831" y="326.45" width="10.5" height="0.8" fill="#fff" fill-opacity="0.35"/>
<rect x="844" y="326.45" width="8" height="0.8" fill="#fff" fill-opacity="0.35"/>
<rect x="897" y="326.45" width="7.5" height="0.8" fill="#fff" fill-opacity="0.35"/>
<rect x="906.5" y="326.45" width="12.5" height="0.8" fill="#fff" fill-opacity="0.35"/>
<rect x="868" y="324.80" width="12.5" height="1.4" fill="#fff"/>
<rect x="825" y="315.15" width="1.6" height="1.6" fill="#fff"/><rect x="825" y="320.75" width="1.6" height="1.6" fill="#fff"/>
<rect x="922.5" y="315.15" width="1.6" height="1.6" fill="#fff"/><rect x="922.5" y="320.75" width="1.6" height="1.6" fill="#fff"/>
<rect x="830.5" y="328.95" width="11.0" height="1" fill="#fff" fill-opacity="0.8"/>
<rect x="844" y="328.95" width="8" height="1" fill="#fff" fill-opacity="0.8"/>
<rect x="870" y="328.95" width="9" height="1" fill="#fff" fill-opacity="0.8"/>
<rect x="897" y="328.95" width="7.5" height="1" fill="#fff" fill-opacity="0.8"/>
<rect x="906.5" y="328.95" width="12.5" height="1" fill="#fff" fill-opacity="0.8"/>
<path d="M854,329.45 Q860.75,328.25 867.5,329.45 Q860.75,330.65 854,329.45 Z" fill="#fff" fill-opacity="0.85"/>
<path d="M881.8,329.45 Q888.25,328.25 894.7,329.45 Q888.25,330.65 881.8,329.45 Z" fill="#fff" fill-opacity="0.85"/>
<rect x="830.5" y="334.95" width="11.0" height="1" fill="#fff" fill-opacity="0.8"/>
<rect x="844" y="334.95" width="8" height="1" fill="#fff" fill-opacity="0.8"/>
<rect x="870" y="334.95" width="9" height="1" fill="#fff" fill-opacity="0.8"/>
<rect x="897" y="334.95" width="7.5" height="1" fill="#fff" fill-opacity="0.8"/>
<rect x="906.5" y="334.95" width="12.5" height="1" fill="#fff" fill-opacity="0.8"/>
<path d="M854,335.45 Q860.75,334.25 867.5,335.45 Q860.75,336.65 854,335.45 Z" fill="#fff" fill-opacity="0.85"/>
<path d="M881.8,335.45 Q888.25,334.25 894.7,335.45 Q888.25,336.65 881.8,335.45 Z" fill="#fff" fill-opacity="0.85"/>
<rect x="831" y="337.25" width="10.5" height="0.8" fill="#fff" fill-opacity="0.35"/>
<rect x="844" y="337.25" width="8" height="0.8" fill="#fff" fill-opacity="0.35"/>
<rect x="897" y="337.25" width="7.5" height="0.8" fill="#fff" fill-opacity="0.35"/>
<rect x="906.5" y="337.25" width="12.5" height="0.8" fill="#fff" fill-opacity="0.35"/>
<rect x="831" y="339.95" width="10.5" height="0.8" fill="#fff" fill-opacity="0.35"/>
<rect x="844" y="339.95" width="8" height="0.8" fill="#fff" fill-opacity="0.35"/>
<rect x="897" y="339.95" width="7.5" height="0.8" fill="#fff" fill-opacity="0.35"/>
<rect x="906.5" y="339.95" width="12.5" height="0.8" fill="#fff" fill-opacity="0.35"/>
<rect x="868" y="338.30" width="12.5" height="1.4" fill="#fff"/>
<rect x="825" y="328.65" width="1.6" height="1.6" fill="#fff"/><rect x="825" y="334.25" width="1.6" height="1.6" fill="#fff"/>
<rect x="922.5" y="328.65" width="1.6" height="1.6" fill="#fff"/><rect x="922.5" y="334.25" width="1.6" height="1.6" fill="#fff"/>
<rect x="830.5" y="342.45" width="11.0" height="1" fill="#fff" fill-opacity="0.8"/>
<rect x="844" y="342.45" width="8" height="1" fill="#fff" fill-opacity="0.8"/>
<rect x="870" y="342.45" width="9" height="1" fill="#fff" fill-opacity="0.8"/>
<rect x="897" y="342.45" width="7.5" height="1" fill="#fff" fill-opacity="0.8"/>
<rect x="906.5" y="342.45" width="12.5" height="1" fill="#fff" fill-opacity="0.8"/>
<path d="M854,342.95 Q860.75,341.75 867.5,342.95 Q860.75,344.15 854,342.95 Z" fill="#fff" fill-opacity="0.85"/>
<path d="M881.8,342.95 Q888.25,341.75 894.7,342.95 Q888.25,344.15 881.8,342.95 Z" fill="#fff" fill-opacity="0.85"/>
<rect x="830.5" y="348.45" width="11.0" height="1" fill="#fff" fill-opacity="0.8"/>
<rect x="844" y="348.45" width="8" height="1" fill="#fff" fill-opacity="0.8"/>
<rect x="870" y="348.45" width="9" height="1" fill="#fff" fill-opacity="0.8"/>
<rect x="897" y="348.45" width="7.5" height="1" fill="#fff" fill-opacity="0.8"/>
<rect x="906.5" y="348.45" width="12.5" height="1" fill="#fff" fill-opacity="0.8"/>
<path d="M854,348.95 Q860.75,347.75 867.5,348.95 Q860.75,350.15 854,348.95 Z" fill="#fff" fill-opacity="0.85"/>
<path d="M881.8,348.95 Q888.25,347.75 894.7,348.95 Q888.25,350.15 881.8,348.95 Z" fill="#fff" fill-opacity="0.85"/>
<rect x="831" y="350.75" width="10.5" height="0.8" fill="#fff" fill-opacity="0.35"/>
<rect x="844" y="350.75" width="8" height="0.8" fill="#fff" fill-opacity="0.35"/>
<rect x="897" y="350.75" width="7.5" height="0.8" fill="#fff" fill-opacity="0.35"/>
<rect x="906.5" y="350.75" width="12.5" height="0.8" fill="#fff" fill-opacity="0.35"/>
<rect x="831" y="353.45" width="10.5" height="0.8" fill="#fff" fill-opacity="0.35"/>
<rect x="844" y="353.45" width="8" height="0.8" fill="#fff" fill-opacity="0.35"/>
<rect x="897" y="353.45" width="7.5" height="0.8" fill="#fff" fill-opacity="0.35"/>
<rect x="906.5" y="353.45" width="12.5" height="0.8" fill="#fff" fill-opacity="0.35"/>
<rect x="868" y="351.80" width="12.5" height="1.4" fill="#fff"/>
<rect x="825" y="342.15" width="1.6" height="1.6" fill="#fff"/><rect x="825" y="347.75" width="1.6" height="1.6" fill="#fff"/>
<rect x="922.5" y="342.15" width="1.6" height="1.6" fill="#fff"/><rect x="922.5" y="347.75" width="1.6" height="1.6" fill="#fff"/>
<rect x="830.5" y="355.95" width="11.0" height="1" fill="#fff" fill-opacity="0.8"/>
<rect x="844" y="355.95" width="8" height="1" fill="#fff" fill-opacity="0.8"/>
<rect x="870" y="355.95" width="9" height="1" fill="#fff" fill-opacity="0.8"/>
<rect x="897" y="355.95" width="7.5" height="1" fill="#fff" fill-opacity="0.8"/>
<rect x="906.5" y="355.95" width="12.5" height="1" fill="#fff" fill-opacity="0.8"/>
<path d="M854,356.45 Q860.75,355.25 867.5,356.45 Q860.75,357.65 854,356.45 Z" fill="#fff" fill-opacity="0.85"/>
<path d="M881.8,356.45 Q888.25,355.25 894.7,356.45 Q888.25,357.65 881.8,356.45 Z" fill="#fff" fill-opacity="0.85"/>
<rect x="830.5" y="361.95" width="11.0" height="1" fill="#fff" fill-opacity="0.8"/>
<rect x="844" y="361.95" width="8" height="1" fill="#fff" fill-opacity="0.8"/>
<rect x="870" y="361.95" width="9" height="1" fill="#fff" fill-opacity="0.8"/>
<rect x="897" y="361.95" width="7.5" height="1" fill="#fff" fill-opacity="0.8"/>
<rect x="906.5" y="361.95" width="12.5" height="1" fill="#fff" fill-opacity="0.8"/>
<path d="M854,362.45 Q860.75,361.25 867.5,362.45 Q860.75,363.65 854,362.45 Z" fill="#fff" fill-opacity="0.85"/>
<path d="M881.8,362.45 Q888.25,361.25 894.7,362.45 Q888.25,363.65 881.8,362.45 Z" fill="#fff" fill-opacity="0.85"/>
<rect x="831" y="364.25" width="10.5" height="0.8" fill="#fff" fill-opacity="0.35"/>
<rect x="844" y="364.25" width="8" height="0.8" fill="#fff" fill-opacity="0.35"/>
<rect x="897" y="364.25" width="7.5" height="0.8" fill="#fff" fill-opacity="0.35"/>
<rect x="906.5" y="364.25" width="12.5" height="0.8" fill="#fff" fill-opacity="0.35"/>
<rect x="831" y="366.95" width="10.5" height="0.8" fill="#fff" fill-opacity="0.35"/>
<rect x="844" y="366.95" width="8" height="0.8" fill="#fff" fill-opacity="0.35"/>
<rect x="897" y="366.95" width="7.5" height="0.8" fill="#fff" fill-opacity="0.35"/>
<rect x="906.5" y="366.95" width="12.5" height="0.8" fill="#fff" fill-opacity="0.35"/>
<rect x="868" y="365.30" width="12.5" height="1.4" fill="#fff"/>
<rect x="825" y="355.65" width="1.6" height="1.6" fill="#fff"/><rect x="825" y="361.25" width="1.6" height="1.6" fill="#fff"/>
<rect x="922.5" y="355.65" width="1.6" height="1.6" fill="#fff"/><rect x="922.5" y="361.25" width="1.6" height="1.6" fill="#fff"/>
<rect x="830.5" y="369.45" width="11.0" height="1" fill="#fff" fill-opacity="0.8"/>
<rect x="844" y="369.45" width="8" height="1" fill="#fff" fill-opacity="0.8"/>
<rect x="870" y="369.45" width="9" height="1" fill="#fff" fill-opacity="0.8"/>
<rect x="897" y="369.45" width="7.5" height="1" fill="#fff" fill-opacity="0.8"/>
<rect x="906.5" y="369.45" width="12.5" height="1" fill="#fff" fill-opacity="0.8"/>
<path d="M854,369.95 Q860.75,368.75 867.5,369.95 Q860.75,371.15 854,369.95 Z" fill="#fff" fill-opacity="0.85"/>
<path d="M881.8,369.95 Q888.25,368.75 894.7,369.95 Q888.25,371.15 881.8,369.95 Z" fill="#fff" fill-opacity="0.85"/>
<rect x="830.5" y="375.45" width="11.0" height="1" fill="#fff" fill-opacity="0.8"/>
<rect x="844" y="375.45" width="8" height="1" fill="#fff" fill-opacity="0.8"/>
<rect x="870" y="375.45" width="9" height="1" fill="#fff" fill-opacity="0.8"/>
<rect x="897" y="375.45" width="7.5" height="1" fill="#fff" fill-opacity="0.8"/>
<rect x="906.5" y="375.45" width="12.5" height="1" fill="#fff" fill-opacity="0.8"/>
<path d="M854,375.95 Q860.75,374.75 867.5,375.95 Q860.75,377.15 854,375.95 Z" fill="#fff" fill-opacity="0.85"/>
<path d="M881.8,375.95 Q888.25,374.75 894.7,375.95 Q888.25,377.15 881.8,375.95 Z" fill="#fff" fill-opacity="0.85"/>
<rect x="831" y="377.75" width="10.5" height="0.8" fill="#fff" fill-opacity="0.35"/>
<rect x="844" y="377.75" width="8" height="0.8" fill="#fff" fill-opacity="0.35"/>
<rect x="897" y="377.75" width="7.5" height="0.8" fill="#fff" fill-opacity="0.35"/>
<rect x="906.5" y="377.75" width="12.5" height="0.8" fill="#fff" fill-opacity="0.35"/>
<rect x="831" y="380.45" width="10.5" height="0.8" fill="#fff" fill-opacity="0.35"/>
<rect x="844" y="380.45" width="8" height="0.8" fill="#fff" fill-opacity="0.35"/>
<rect x="897" y="380.45" width="7.5" height="0.8" fill="#fff" fill-opacity="0.35"/>
<rect x="906.5" y="380.45" width="12.5" height="0.8" fill="#fff" fill-opacity="0.35"/>
<rect x="868" y="378.80" width="12.5" height="1.4" fill="#fff"/>
<rect x="825" y="369.15" width="1.6" height="1.6" fill="#fff"/><rect x="825" y="374.75" width="1.6" height="1.6" fill="#fff"/>
<rect x="922.5" y="369.15" width="1.6" height="1.6" fill="#fff"/><rect x="922.5" y="374.75" width="1.6" height="1.6" fill="#fff"/>
<rect x="830.5" y="382.95" width="11.0" height="1" fill="#fff" fill-opacity="0.8"/>
<rect x="844" y="382.95" width="8" height="1" fill="#fff" fill-opacity="0.8"/>
<rect x="870" y="382.95" width="9" height="1" fill="#fff" fill-opacity="0.8"/>
<rect x="897" y="382.95" width="7.5" height="1" fill="#fff" fill-opacity="0.8"/>
<rect x="906.5" y="382.95" width="12.5" height="1" fill="#fff" fill-opacity="0.8"/>
<path d="M854,383.45 Q860.75,382.25 867.5,383.45 Q860.75,384.65 854,383.45 Z" fill="#fff" fill-opacity="0.85"/>
<path d="M881.8,383.45 Q888.25,382.25 894.7,383.45 Q888.25,384.65 881.8,383.45 Z" fill="#fff" fill-opacity="0.85"/>
<rect x="830.5" y="388.95" width="11.0" height="1" fill="#fff" fill-opacity="0.8"/>
<rect x="844" y="388.95" width="8" height="1" fill="#fff" fill-opacity="0.8"/>
<rect x="870" y="388.95" width="9" height="1" fill="#fff" fill-opacity="0.8"/>
<rect x="897" y="388.95" width="7.5" height="1" fill="#fff" fill-opacity="0.8"/>
<rect x="906.5" y="388.95" width="12.5" height="1" fill="#fff" fill-opacity="0.8"/>
<path d="M854,389.45 Q860.75,388.25 867.5,389.45 Q860.75,390.65 854,389.45 Z" fill="#fff" fill-opacity="0.85"/>
<path d="M881.8,389.45 Q888.25,388.25 894.7,389.45 Q888.25,390.65 881.8,389.45 Z" fill="#fff" fill-opacity="0.85"/>
<rect x="831" y="391.25" width="10.5" height="0.8" fill="#fff" fill-opacity="0.35"/>
<rect x="844" y="391.25" width="8" height="0.8" fill="#fff" fill-opacity="0.35"/>
<rect x="897" y="391.25" width="7.5" height="0.8" fill="#fff" fill-opacity="0.35"/>
<rect x="906.5" y="391.25" width="12.5" height="0.8" fill="#fff" fill-opacity="0.35"/>
<rect x="831" y="393.95" width="10.5" height="0.8" fill="#fff" fill-opacity="0.35"/>
<rect x="844" y="393.95" width="8" height="0.8" fill="#fff" fill-opacity="0.35"/>
<rect x="897" y="393.95" width="7.5" height="0.8" fill="#fff" fill-opacity="0.35"/>
<rect x="906.5" y="393.95" width="12.5" height="0.8" fill="#fff" fill-opacity="0.35"/>
<rect x="868" y="392.30" width="12.5" height="1.4" fill="#fff"/>
<rect x="825" y="382.65" width="1.6" height="1.6" fill="#fff"/><rect x="825" y="388.25" width="1.6" height="1.6" fill="#fff"/>
<rect x="922.5" y="382.65" width="1.6" height="1.6" fill="#fff"/><rect x="922.5" y="388.25" width="1.6" height="1.6" fill="#fff"/>
<rect x="830.5" y="396.45" width="11.0" height="1" fill="#fff" fill-opacity="0.8"/>
<rect x="844" y="396.45" width="8" height="1" fill="#fff" fill-opacity="0.8"/>
<rect x="870" y="396.45" width="9" height="1" fill="#fff" fill-opacity="0.8"/>
<rect x="897" y="396.45" width="7.5" height="1" fill="#fff" fill-opacity="0.8"/>
<rect x="906.5" y="396.45" width="12.5" height="1" fill="#fff" fill-opacity="0.8"/>
<path d="M854,396.95 Q860.75,395.75 867.5,396.95 Q860.75,398.15 854,396.95 Z" fill="#fff" fill-opacity="0.85"/>
<path d="M881.8,396.95 Q888.25,395.75 894.7,396.95 Q888.25,398.15 881.8,396.95 Z" fill="#fff" fill-opacity="0.85"/>
<rect x="830.5" y="402.45" width="11.0" height="1" fill="#fff" fill-opacity="0.8"/>
<rect x="844" y="402.45" width="8" height="1" fill="#fff" fill-opacity="0.8"/>
<rect x="870" y="402.45" width="9" height="1" fill="#fff" fill-opacity="0.8"/>
<rect x="897" y="402.45" width="7.5" height="1" fill="#fff" fill-opacity="0.8"/>
<rect x="906.5" y="402.45" width="12.5" height="1" fill="#fff" fill-opacity="0.8"/>
<path d="M854,402.95 Q860.75,401.75 867.5,402.95 Q860.75,404.15 854,402.95 Z" fill="#fff" fill-opacity="0.85"/>
<path d="M881.8,402.95 Q888.25,401.75 894.7,402.95 Q888.25,404.15 881.8,402.95 Z" fill="#fff" fill-opacity="0.85"/>
<rect x="831" y="404.75" width="10.5" height="0.8" fill="#fff" fill-opacity="0.35"/>
<rect x="844" y="404.75" width="8" height="0.8" fill="#fff" fill-opacity="0.35"/>
<rect x="897" y="404.75" width="7.5" height="0.8" fill="#fff" fill-opacity="0.35"/>
<rect x="906.5" y="404.75" width="12.5" height="0.8" fill="#fff" fill-opacity="0.35"/>
<rect x="831" y="407.45" width="10.5" height="0.8" fill="#fff" fill-opacity="0.35"/>
<rect x="844" y="407.45" width="8" height="0.8" fill="#fff" fill-opacity="0.35"/>
<rect x="897" y="407.45" width="7.5" height="0.8" fill="#fff" fill-opacity="0.35"/>
<rect x="906.5" y="407.45" width="12.5" height="0.8" fill="#fff" fill-opacity="0.35"/>
<rect x="868" y="405.80" width="12.5" height="1.4" fill="#fff"/>
<rect x="825" y="396.15" width="1.6" height="1.6" fill="#fff"/><rect x="825" y="401.75" width="1.6" height="1.6" fill="#fff"/>
<rect x="922.5" y="396.15" width="1.6" height="1.6" fill="#fff"/><rect x="922.5" y="401.75" width="1.6" height="1.6" fill="#fff"/>
<rect x="830.5" y="409.95" width="11.0" height="1" fill="#fff" fill-opacity="0.8"/>
<rect x="844" y="409.95" width="8" height="1" fill="#fff" fill-opacity="0.8"/>
<rect x="870" y="409.95" width="9" height="1" fill="#fff" fill-opacity="0.8"/>
<rect x="897" y="409.95" width="7.5" height="1" fill="#fff" fill-opacity="0.8"/>
<rect x="906.5" y="409.95" width="12.5" height="1" fill="#fff" fill-opacity="0.8"/>
<path d="M854,410.45 Q860.75,409.25 867.5,410.45 Q860.75,411.65 854,410.45 Z" fill="#fff" fill-opacity="0.85"/>
<path d="M881.8,410.45 Q888.25,409.25 894.7,410.45 Q888.25,411.65 881.8,410.45 Z" fill="#fff" fill-opacity="0.85"/>
<rect x="830.5" y="415.95" width="11.0" height="1" fill="#fff" fill-opacity="0.8"/>
<rect x="844" y="415.95" width="8" height="1" fill="#fff" fill-opacity="0.8"/>
<rect x="870" y="415.95" width="9" height="1" fill="#fff" fill-opacity="0.8"/>
<rect x="897" y="415.95" width="7.5" height="1" fill="#fff" fill-opacity="0.8"/>
<rect x="906.5" y="415.95" width="12.5" height="1" fill="#fff" fill-opacity="0.8"/>
<path d="M854,416.45 Q860.75,415.25 867.5,416.45 Q860.75,417.65 854,416.45 Z" fill="#fff" fill-opacity="0.85"/>
<path d="M881.8,416.45 Q888.25,415.25 894.7,416.45 Q888.25,417.65 881.8,416.45 Z" fill="#fff" fill-opacity="0.85"/>
<rect x="831" y="418.25" width="10.5" height="0.8" fill="#fff" fill-opacity="0.35"/>
<rect x="844" y="418.25" width="8" height="0.8" fill="#fff" fill-opacity="0.35"/>
<rect x="897" y="418.25" width="7.5" height="0.8" fill="#fff" fill-opacity="0.35"/>
<rect x="906.5" y="418.25" width="12.5" height="0.8" fill="#fff" fill-opacity="0.35"/>
<rect x="831" y="420.95" width="10.5" height="0.8" fill="#fff" fill-opacity="0.35"/>
<rect x="844" y="420.95" width="8" height="0.8" fill="#fff" fill-opacity="0.35"/>
<rect x="897" y="420.95" width="7.5" height="0.8" fill="#fff" fill-opacity="0.35"/>
<rect x="906.5" y="420.95" width="12.5" height="0.8" fill="#fff" fill-opacity="0.35"/>
<rect x="868" y="419.30" width="12.5" height="1.4" fill="#fff"/>
<rect x="825" y="409.65" width="1.6" height="1.6" fill="#fff"/><rect x="825" y="415.25" width="1.6" height="1.6" fill="#fff"/>
<rect x="922.5" y="409.65" width="1.6" height="1.6" fill="#fff"/><rect x="922.5" y="415.25" width="1.6" height="1.6" fill="#fff"/>
<rect x="830.5" y="423.45" width="11.0" height="1" fill="#fff" fill-opacity="0.8"/>
<rect x="844" y="423.45" width="8" height="1" fill="#fff" fill-opacity="0.8"/>
<rect x="870" y="423.45" width="9" height="1" fill="#fff" fill-opacity="0.8"/>
<rect x="897" y="423.45" width="7.5" height="1" fill="#fff" fill-opacity="0.8"/>
<rect x="906.5" y="423.45" width="12.5" height="1" fill="#fff" fill-opacity="0.8"/>
<path d="M854,423.95 Q860.75,422.75 867.5,423.95 Q860.75,425.15 854,423.95 Z" fill="#fff" fill-opacity="0.85"/>
<path d="M881.8,423.95 Q888.25,422.75 894.7,423.95 Q888.25,425.15 881.8,423.95 Z" fill="#fff" fill-opacity="0.85"/>
<rect x="830.5" y="429.45" width="11.0" height="1" fill="#fff" fill-opacity="0.8"/>
<rect x="844" y="429.45" width="8" height="1" fill="#fff" fill-opacity="0.8"/>
<rect x="870" y="429.45" width="9" height="1" fill="#fff" fill-opacity="0.8"/>
<rect x="897" y="429.45" width="7.5" height="1" fill="#fff" fill-opacity="0.8"/>
<rect x="906.5" y="429.45" width="12.5" height="1" fill="#fff" fill-opacity="0.8"/>
<path d="M854,429.95 Q860.75,428.75 867.5,429.95 Q860.75,431.15 854,429.95 Z" fill="#fff" fill-opacity="0.85"/>
<path d="M881.8,429.95 Q888.25,428.75 894.7,429.95 Q888.25,431.15 881.8,429.95 Z" fill="#fff" fill-opacity="0.85"/>
<rect x="831" y="431.75" width="10.5" height="0.8" fill="#fff" fill-opacity="0.35"/>
<rect x="844" y="431.75" width="8" height="0.8" fill="#fff" fill-opacity="0.35"/>
<rect x="897" y="431.75" width="7.5" height="0.8" fill="#fff" fill-opacity="0.35"/>
<rect x="906.5" y="431.75" width="12.5" height="0.8" fill="#fff" fill-opacity="0.35"/>
<rect x="831" y="434.45" width="10.5" height="0.8" fill="#fff" fill-opacity="0.35"/>
<rect x="844" y="434.45" width="8" height="0.8" fill="#fff" fill-opacity="0.35"/>
<rect x="897" y="434.45" width="7.5" height="0.8" fill="#fff" fill-opacity="0.35"/>
<rect x="906.5" y="434.45" width="12.5" height="0.8" fill="#fff" fill-opacity="0.35"/>
<rect x="868" y="432.80" width="12.5" height="1.4" fill="#fff"/>
<rect x="825" y="423.15" width="1.6" height="1.6" fill="#fff"/><rect x="825" y="428.75" width="1.6" height="1.6" fill="#fff"/>
<rect x="922.5" y="423.15" width="1.6" height="1.6" fill="#fff"/><rect x="922.5" y="428.75" width="1.6" height="1.6" fill="#fff"/>
<rect x="830.5" y="436.95" width="11.0" height="1" fill="#fff" fill-opacity="0.8"/>
<rect x="844" y="436.95" width="8" height="1" fill="#fff" fill-opacity="0.8"/>
<rect x="870" y="436.95" width="9" height="1" fill="#fff" fill-opacity="0.8"/>
<rect x="897" y="436.95" width="7.5" height="1" fill="#fff" fill-opacity="0.8"/>
<rect x="906.5" y="436.95" width="12.5" height="1" fill="#fff" fill-opacity="0.8"/>
<path d="M854,437.45 Q860.75,436.25 867.5,437.45 Q860.75,438.65 854,437.45 Z" fill="#fff" fill-opacity="0.85"/>
<path d="M881.8,437.45 Q888.25,436.25 894.7,437.45 Q888.25,438.65 881.8,437.45 Z" fill="#fff" fill-opacity="0.85"/>
<rect x="831" y="445.25" width="10.5" height="0.8" fill="#fff" fill-opacity="0.35"/>
<rect x="844" y="445.25" width="8" height="0.8" fill="#fff" fill-opacity="0.35"/>
<rect x="897" y="445.25" width="7.5" height="0.8" fill="#fff" fill-opacity="0.35"/>
<rect x="906.5" y="445.25" width="12.5" height="0.8" fill="#fff" fill-opacity="0.35"/>
<rect x="831" y="447.95" width="10.5" height="0.8" fill="#fff" fill-opacity="0.35"/>
<rect x="844" y="447.95" width="8" height="0.8" fill="#fff" fill-opacity="0.35"/>
<rect x="897" y="447.95" width="7.5" height="0.8" fill="#fff" fill-opacity="0.35"/>
<rect x="906.5" y="447.95" width="12.5" height="0.8" fill="#fff" fill-opacity="0.35"/>
<rect x="868" y="446.30" width="12.5" height="1.4" fill="#fff"/>
<rect x="825" y="436.65" width="1.6" height="1.6" fill="#fff"/><rect x="825" y="442.25" width="1.6" height="1.6" fill="#fff"/>
<rect x="922.5" y="436.65" width="1.6" height="1.6" fill="#fff"/><rect x="922.5" y="442.25" width="1.6" height="1.6" fill="#fff"/>
<rect x="820" y="160" width="10" height="5" fill="#fff"/><rect x="867" y="161" width="18" height="3" fill="#fff"/>
<rect x="820" y="444" width="10" height="5" fill="#fff"/><rect x="863" y="447" width="23" height="3" fill="#fff"/>
<path d="M832,447 H842 M844,447 H856 M888,447 H917" stroke="#fff" stroke-width="1"/>
<rect x="940.6" y="155.8" width="8.8" height="22" fill="#fff" stroke="#000" stroke-width="2.7"/>
<path d="M940.6,166.5 H949.4 M943.5,156 V178" stroke="#000" stroke-width="1.8"/>
<path d="M932,160 L940,157 M932,178 L940,172" stroke="#000" stroke-width="2"/>
<path d="M948,435.6 H976.5 A8.1,8.1 0 0 1 976.5,451.8 H948" fill="#fff" stroke="#000" stroke-width="2.7"/>
<path d="M956.8,436 V451" stroke="#000" stroke-width="1.8"/>
<path d="M949.4,157.8 A34.5,34.5 0 0 1 983.9,192.3 L974.7,374.3 C974.5,392 968,398 963,398 C955,398 950.5,390 951,382 L955.8,374.3 L964.1,192.3 A14.7,14.7 0 0 0 949.4,177.6 Z" fill="#fff" stroke="#000" stroke-width="2.8" stroke-linejoin="round"/>
<path d="M964,192 Q974,196 984,192" fill="none" stroke="#000" stroke-width="2"/>
<path d="M955.9,373 Q965,377 974.8,373" fill="none" stroke="#000" stroke-width="2"/>
<rect x="951.6" y="284.4" width="7.6" height="13" fill="#fff" stroke="#000" stroke-width="2.7"/>
<rect x="944.2" y="299.4" width="13.4" height="11.3" fill="#fff" stroke="#000" stroke-width="2.7"/>
<path d="M955.7,311 V370" stroke="#000" stroke-width="2"/>
<path d="M950.4,311 V380 C950.4,383 950.2,385 950.2,386 L938.5,431.5 M962.5,398.5 L954,431.5" fill="none" stroke="#000" stroke-width="2.6"/>
<path d="M942.5,418 L956,422" stroke="#000" stroke-width="1.8"/>
<rect x="940.3" y="431.5" width="8" height="23.5" fill="#fff" stroke="#000" stroke-width="2.7"/>
<path d="M932,441 L938.5,431.5 M932,452 L940,452" stroke="#000" stroke-width="1.8"/>
<path d="M463.3,573.2 H696.8 Q702.8,573.2 702.8,579.2 V679.3 Q702.8,685.3 696.8,685.3 H465.3 C462,685 460,683.5 458.6,682.9 C452,680 449,678.6 447,678.6 C441,678 436,677.5 434.4,677.1 C426,673 422.3,668 422.3,660 V597 C422.3,585 432,579 439.5,579 C445,579 447,580 450,579 C455,577 460,573.5 463.3,573.2 Z" fill="#fff" stroke="#000" stroke-width="2.4"/>
<path d="M427,588 V662 C427,668 430,672 434,676" stroke="#000" fill="none" stroke-width="2"/>
<path d="M686.5,573.5 V685" stroke="#000" stroke-width="4.2"/>
<rect x="427.6" y="613.5" width="3.6" height="31" fill="#fff" stroke="#000" stroke-width="1.8"/>
<circle cx="431.3" cy="613.3" r="2.4" fill="#fff" stroke="#000" stroke-width="2"/>
<circle cx="431.3" cy="644.6" r="2.4" fill="#fff" stroke="#000" stroke-width="2"/>
<path d="M424.3,669 L425.6,695 M459.5,684 L458.6,695" stroke="#000" fill="none" stroke-width="1.6"/>
<path d="M432.4,677 V703 M453.7,681 V703" stroke="#000" stroke-width="5"/>
<path d="M434,697 C436,688 449,686 452,697 Z" fill="#000"/><path d="M436,692 C440,687.5 446,687.5 450,692" fill="none" stroke="#000" stroke-width="1.4"/>
<rect x="425.5" y="695.6" width="33" height="7.4" fill="#fff" stroke="#000" stroke-width="2.4"/>
<rect x="423.5" y="693.5" width="4" height="6" fill="#000"/><rect x="456.5" y="693.5" width="4" height="6" fill="#000"/>
<path d="M432,703.5 C432,725 438,738.6 448.9,738.6 C455,738.6 460,734 459,727.4 C458.5,722 455,720 453.7,717.8 L451.8,703.5" fill="#fff" stroke="#000" stroke-width="2.4"/>
<path d="M453.7,717.8 L507,708.6 C512,709 513,727 507.3,728.5 L458,736.5" fill="#fff" stroke="#000" stroke-width="2.4"/>
<path d="M448.9,738.6 L500,730.5 C505,729 508,727 509,726" stroke="#000" fill="none" stroke-width="2"/>
<path d="M483,732 V738" stroke="#000" stroke-width="1.6"/>
<path d="M507.5,708.7 L538.8,706.5 M507.8,728.2 L538.8,726.6" stroke="#000" fill="none" stroke-width="2.7"/>
<path d="M522.3,707.5 V727.5 M530.2,707 V727" stroke="#000" stroke-width="1.6"/>
<path d="M508.7,708 C520,698 530,690 543.1,689.3 L583.2,690.5 C590,691 594,695 597,700" stroke="#000" fill="none" stroke-width="2.7"/>
<path d="M543.8,690 V701 M564.6,690 V700 M523.8,697.2 L531.7,705.8" stroke="#000" stroke-width="1.6"/>
<rect x="539" y="699.4" width="64.8" height="32.2" rx="16.1" fill="#fff" stroke="#000" stroke-width="2.8"/>
<circle cx="553.1" cy="715.5" r="9.3" fill="none" stroke="#000" stroke-width="3.6"/>
<circle cx="553.1" cy="715.5" r="11.8" fill="none" stroke="#000" stroke-width="0.9"/>
<circle cx="589.6" cy="715.5" r="8" fill="none" stroke="#000" stroke-width="3.4"/>
<circle cx="589.6" cy="715.5" r="10.3" fill="none" stroke="#000" stroke-width="0.9"/>
<circle cx="573.2" cy="705.8" r="4.2" fill="none" stroke="#000" stroke-width="2.4"/>
<circle cx="573.2" cy="724.1" r="4.2" fill="none" stroke="#000" stroke-width="2.4"/>
</svg></body></html>
